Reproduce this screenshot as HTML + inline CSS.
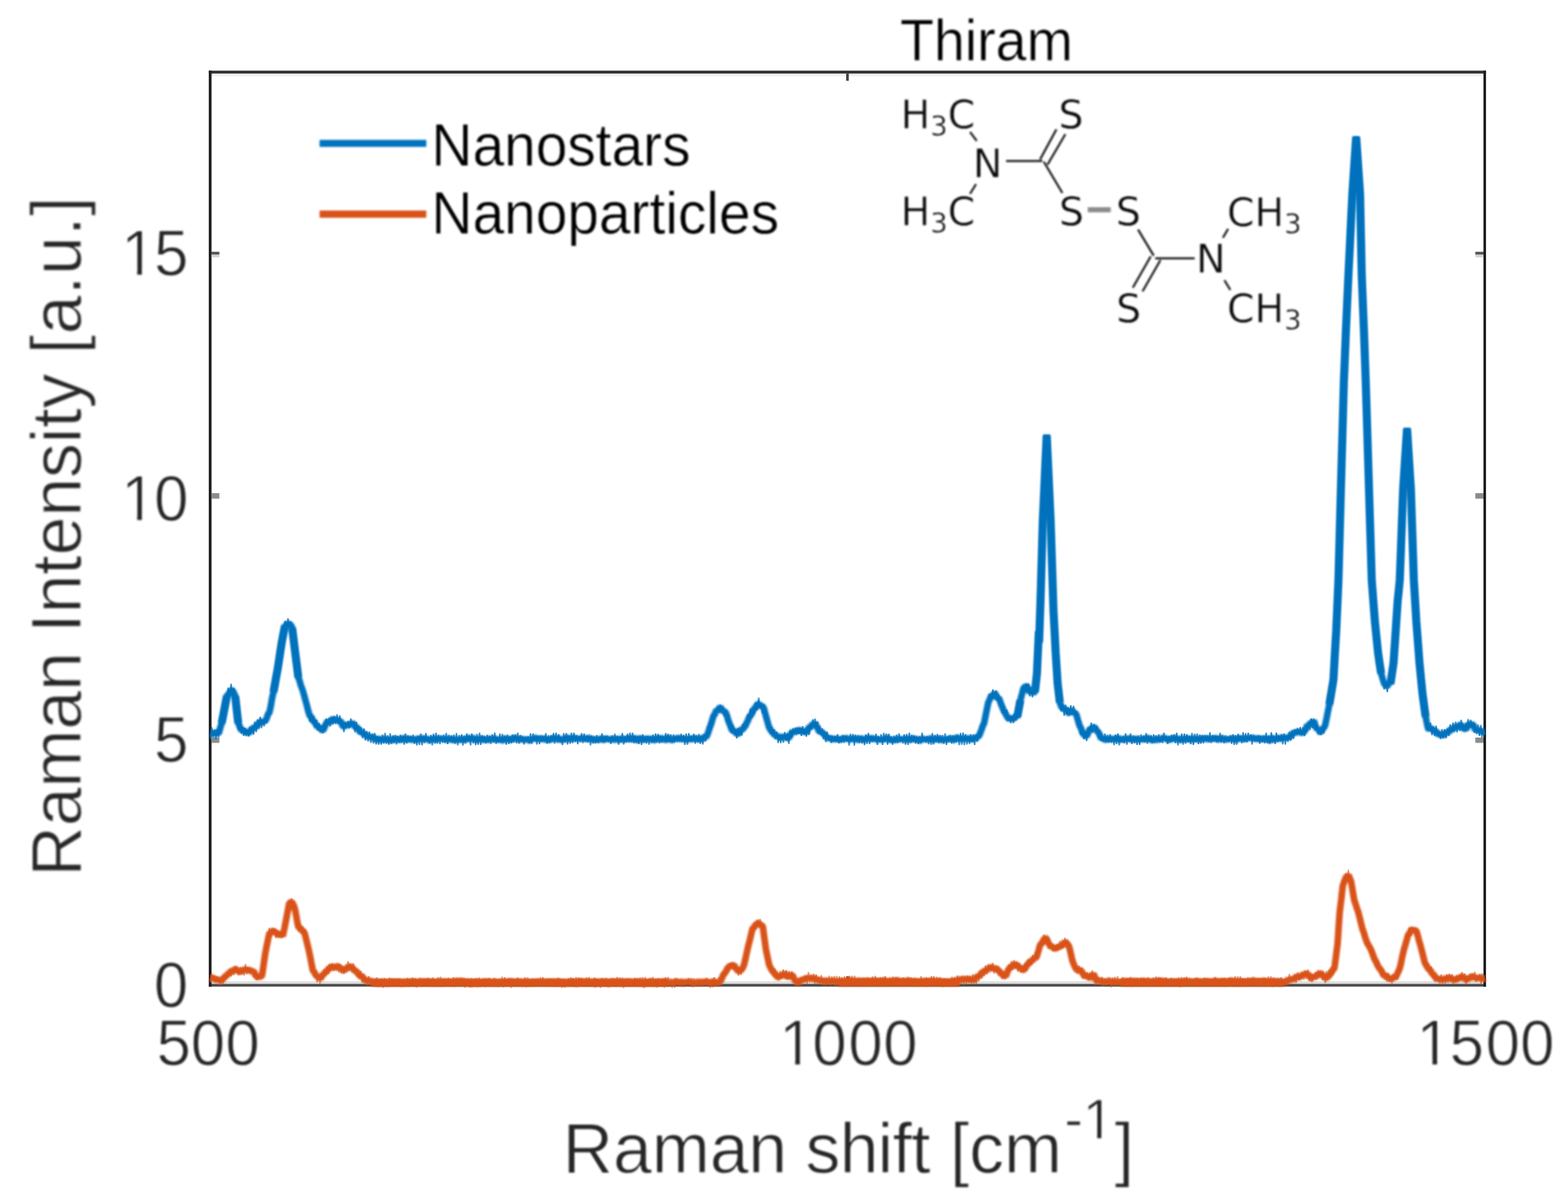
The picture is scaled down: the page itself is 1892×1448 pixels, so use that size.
<!DOCTYPE html>
<html lang="en">
<head>
<meta charset="utf-8">
<title>Thiram Raman spectra</title>
<style>
html,body{margin:0;padding:0;background:#fff;}
body{width:1892px;height:1448px;overflow:hidden;}
svg{display:block;}
#axes,#ticks{filter:blur(0.6px);}
#curves{filter:blur(0.7px);}
#legend,#ticklabels,#axlabels,#title{filter:blur(1.0px);}
#mol{filter:blur(0.8px);}
</style>
</head>
<body>
<svg width="1892" height="1448" viewBox="0 0 1892 1448">
<rect x="0" y="0" width="1892" height="1448" fill="#fff"/>
<g id="axes">
<rect x="255.2" y="88.6" width="1534.8" height="3.2" fill="#efefef"/>
<rect x="255.2" y="1184.2" width="1534.8" height="3.3" fill="#dcdcdc"/>
<rect x="251.9" y="1187.3" width="1541.2" height="3.2" fill="#474747"/>
<rect x="251.9" y="85.3" width="1541.2" height="3.4" fill="#2b2b2b"/>
<rect x="251.9" y="85.3" width="3.4" height="1105.2" fill="#202020"/>
<rect x="1790.0" y="85.3" width="3.1" height="1105.2" fill="#1e1e1e"/>
</g>
<g id="ticks" fill="#8a8a8a">
<rect x="255.1" y="303.8" width="9.6" height="3.6" fill="#555"/>
<rect x="1780.2" y="303.8" width="9.8" height="3.6" fill="#555"/>
<rect x="255.1" y="595.1" width="9.6" height="6.6" fill="#8c8c8c"/>
<rect x="1780.2" y="595.1" width="9.8" height="6.6" fill="#8c8c8c"/>
<rect x="255.1" y="890.0" width="9.6" height="6.4" fill="#8c8c8c"/>
<rect x="1780.2" y="890.0" width="9.8" height="6.4" fill="#8c8c8c"/>
<rect x="255.3" y="307.4" width="9.4" height="3.0" fill="#d0d0d0"/>
<rect x="1780.4" y="307.4" width="9.4" height="3.0" fill="#d0d0d0"/>
<rect x="1021" y="88.5" width="3.2" height="9" fill="#444"/>
<rect x="1021" y="1178.2" width="3.2" height="9" fill="#444"/>
</g>
<g id="curves" fill="none" stroke-linejoin="bevel" stroke-linecap="butt">
<path d="M254.0,1185.5 L255.5,1175.0 L257.0,1183.1 L258.5,1177.1 L260.0,1185.3 L261.5,1178.1 L263.0,1184.7 L264.5,1180.0 L266.0,1188.9 L267.5,1178.6 L269.2,1186.9 L270.8,1176.6 L272.5,1182.1 L274.2,1173.6 L275.8,1178.9 L277.5,1170.5 L279.0,1178.0 L280.5,1169.2 L282.0,1176.7 L283.5,1166.0 L285.0,1172.2 L286.7,1167.2 L288.3,1176.6 L290.0,1167.0 L291.6,1176.2 L293.1,1168.5 L294.7,1177.2 L296.2,1163.4 L297.7,1175.6 L299.2,1167.1 L300.6,1173.8 L302.1,1168.0 L303.5,1174.1 L305.0,1169.9 L306.6,1178.5 L308.1,1171.9 L309.7,1182.5 L311.2,1175.9 L312.9,1180.9 L314.6,1172.7 L316.2,1177.2 L318.1,1164.0 L320.0,1150.9 L321.7,1142.6 L323.3,1134.2 L325.0,1119.7 L326.7,1130.5 L328.3,1120.3 L330.0,1127.0 L331.6,1120.3 L333.1,1131.9 L334.7,1122.3 L336.2,1131.0 L337.9,1124.0 L339.6,1131.5 L341.2,1129.7 L343.1,1120.3 L345.0,1110.9 L346.9,1100.9 L348.8,1087.6 L350.4,1094.3 L352.0,1084.1 L353.4,1094.6 L354.8,1091.9 L356.2,1098.4 L358.1,1108.4 L360.0,1124.2 L361.5,1113.5 L363.0,1123.7 L364.5,1117.6 L366.0,1128.0 L367.5,1120.8 L369.2,1137.2 L370.8,1135.7 L372.5,1145.9 L374.2,1154.2 L375.8,1162.6 L377.5,1164.8 L379.2,1177.9 L380.8,1171.0 L382.5,1185.2 L384.4,1177.1 L386.2,1187.2 L387.9,1174.1 L389.6,1181.0 L391.2,1169.2 L392.8,1177.0 L394.4,1167.0 L395.9,1174.9 L397.5,1163.1 L399.2,1171.6 L400.8,1162.5 L402.5,1171.8 L404.2,1163.6 L405.8,1171.3 L407.5,1162.6 L409.0,1173.3 L410.5,1163.6 L412.0,1174.4 L413.5,1165.4 L415.0,1175.2 L416.7,1166.3 L418.3,1170.6 L420.0,1159.9 L421.6,1171.5 L423.1,1162.9 L424.7,1172.5 L426.2,1162.5 L427.8,1173.1 L429.4,1168.7 L430.9,1179.0 L432.5,1170.4 L434.0,1181.2 L435.5,1171.7 L437.0,1185.4 L438.5,1174.5 L440.0,1184.4 L441.7,1178.8 L443.3,1189.2 L445.0,1177.8 L446.7,1186.9 L448.3,1182.1 L450.0,1188.6 L451.5,1182.9 L453.1,1189.1 L454.6,1179.5 L456.2,1189.9 L457.7,1181.2 L459.3,1187.9 L460.8,1181.5 L462.3,1192.2 L463.9,1180.1 L465.4,1189.6 L467.0,1181.1 L468.5,1191.2 L470.1,1179.7 L471.6,1188.2 L473.1,1180.1 L474.7,1189.2 L476.2,1180.9 L477.8,1188.6 L479.3,1181.6 L480.8,1189.1 L482.4,1181.5 L483.9,1187.5 L485.5,1182.4 L487.0,1190.2 L488.6,1183.1 L490.1,1188.3 L491.6,1179.9 L493.2,1188.7 L494.7,1181.8 L496.3,1188.6 L497.8,1179.4 L499.4,1187.9 L500.9,1180.3 L502.4,1191.5 L504.0,1182.4 L505.5,1189.5 L507.1,1179.6 L508.6,1190.4 L510.2,1181.6 L511.7,1187.6 L513.2,1181.3 L514.8,1189.2 L516.3,1180.0 L517.9,1188.8 L519.4,1181.4 L521.0,1190.5 L522.5,1179.5 L524.0,1189.1 L525.6,1181.5 L527.1,1190.2 L528.7,1179.0 L530.2,1188.4 L531.7,1178.7 L533.3,1190.8 L534.8,1181.6 L536.4,1190.6 L537.9,1181.8 L539.5,1187.8 L541.0,1179.8 L542.5,1189.2 L544.1,1180.9 L545.6,1189.8 L547.2,1179.1 L548.7,1191.0 L550.3,1183.2 L551.8,1190.3 L553.3,1181.2 L554.9,1189.6 L556.4,1179.4 L558.0,1189.4 L559.5,1181.1 L561.1,1191.7 L562.6,1181.3 L564.1,1189.8 L565.7,1180.9 L567.2,1191.4 L568.8,1180.2 L570.3,1191.0 L571.9,1181.4 L573.4,1187.6 L574.9,1180.1 L576.5,1190.1 L578.0,1179.7 L579.6,1191.1 L581.1,1182.8 L582.6,1188.5 L584.2,1183.0 L585.7,1191.3 L587.3,1182.9 L588.8,1187.9 L590.4,1179.8 L591.9,1190.1 L593.4,1183.1 L595.0,1190.7 L596.5,1180.0 L598.1,1189.7 L599.6,1183.1 L601.2,1190.7 L602.7,1181.4 L604.2,1190.2 L605.8,1178.6 L607.3,1191.3 L608.9,1179.2 L610.4,1188.1 L612.0,1181.8 L613.5,1189.9 L615.0,1183.3 L616.6,1192.1 L618.1,1182.1 L619.7,1188.7 L621.2,1181.9 L622.8,1188.7 L624.3,1179.3 L625.8,1190.1 L627.4,1180.9 L628.9,1189.4 L630.5,1183.1 L632.0,1188.9 L633.5,1179.2 L635.1,1191.3 L636.6,1179.3 L638.2,1188.7 L639.7,1182.4 L641.3,1187.7 L642.8,1180.8 L644.3,1189.2 L645.9,1181.2 L647.4,1189.8 L649.0,1180.6 L650.5,1189.2 L652.1,1179.5 L653.6,1188.4 L655.1,1179.0 L656.7,1190.1 L658.2,1183.1 L659.8,1188.9 L661.3,1180.8 L662.9,1189.4 L664.4,1180.7 L665.9,1189.0 L667.5,1182.1 L669.0,1191.2 L670.6,1182.0 L672.1,1190.8 L673.7,1179.5 L675.2,1190.3 L676.7,1181.2 L678.3,1191.9 L679.8,1181.2 L681.4,1191.6 L682.9,1183.1 L684.5,1189.5 L686.0,1180.3 L687.5,1187.7 L689.1,1179.3 L690.6,1187.8 L692.2,1180.5 L693.7,1188.3 L695.2,1179.0 L696.8,1190.1 L698.3,1179.5 L699.9,1189.8 L701.4,1180.2 L703.0,1190.7 L704.5,1182.0 L706.0,1188.4 L707.6,1179.4 L709.1,1188.1 L710.7,1179.0 L712.2,1188.4 L713.8,1182.9 L715.3,1187.9 L716.8,1179.6 L718.4,1192.0 L719.9,1181.4 L721.5,1190.6 L723.0,1182.1 L724.6,1191.8 L726.1,1180.1 L727.6,1188.2 L729.2,1183.1 L730.7,1190.8 L732.3,1183.2 L733.8,1191.4 L735.4,1182.0 L736.9,1188.5 L738.4,1180.6 L740.0,1189.0 L741.5,1180.7 L743.1,1188.2 L744.6,1179.0 L746.1,1189.0 L747.7,1179.4 L749.2,1188.2 L750.8,1179.6 L752.3,1192.1 L753.9,1181.5 L755.4,1187.6 L756.9,1181.6 L758.5,1190.5 L760.0,1182.3 L761.6,1190.0 L763.1,1182.9 L764.7,1189.7 L766.2,1179.9 L767.7,1189.5 L769.3,1180.1 L770.8,1188.0 L772.4,1179.4 L773.9,1188.0 L775.5,1179.0 L777.0,1192.2 L778.5,1178.9 L780.1,1189.9 L781.6,1182.0 L783.2,1189.1 L784.7,1179.8 L786.3,1189.8 L787.8,1178.9 L789.3,1187.9 L790.9,1181.1 L792.4,1191.6 L794.0,1180.5 L795.5,1190.0 L797.0,1182.9 L798.6,1188.1 L800.1,1182.1 L801.7,1191.7 L803.2,1179.3 L804.8,1188.5 L806.3,1179.0 L807.8,1187.6 L809.4,1180.5 L810.9,1192.0 L812.5,1181.7 L814.0,1191.9 L815.6,1180.2 L817.1,1187.7 L818.6,1181.8 L820.2,1189.6 L821.7,1182.2 L823.3,1191.0 L824.8,1182.5 L826.4,1191.2 L827.9,1181.9 L829.4,1187.8 L831.0,1180.7 L832.5,1187.9 L834.1,1180.7 L835.6,1191.2 L837.2,1180.5 L838.7,1189.6 L840.2,1183.2 L841.8,1189.9 L843.3,1182.9 L844.9,1190.5 L846.4,1182.7 L847.9,1190.2 L849.5,1181.7 L851.0,1189.2 L852.6,1180.2 L854.1,1188.2 L855.7,1182.6 L857.2,1191.9 L858.7,1181.8 L860.3,1191.4 L861.8,1179.2 L863.4,1189.7 L864.9,1182.7 L866.5,1187.9 L868.0,1179.2 L869.7,1184.8 L871.3,1174.7 L873.0,1180.5 L874.7,1170.8 L876.3,1175.2 L878.0,1165.6 L879.4,1172.1 L880.8,1162.1 L882.1,1169.4 L883.5,1161.7 L885.0,1169.9 L886.5,1164.1 L888.0,1171.0 L889.5,1166.5 L891.0,1177.1 L892.5,1167.7 L893.9,1176.2 L895.2,1165.7 L896.6,1172.1 L898.0,1163.4 L899.7,1155.9 L901.3,1148.4 L903.0,1146.2 L904.7,1131.1 L906.3,1133.2 L908.0,1118.1 L909.7,1122.1 L911.3,1114.5 L913.0,1118.6 L914.2,1109.5 L915.5,1116.8 L917.2,1108.8 L918.8,1119.2 L920.5,1118.4 L922.4,1132.2 L924.2,1145.9 L926.1,1154.7 L928.0,1158.0 L929.7,1169.1 L931.3,1166.9 L933.0,1178.3 L934.7,1168.3 L936.3,1179.0 L938.0,1173.4 L939.7,1183.3 L941.3,1171.6 L943.0,1180.8 L944.9,1170.0 L946.8,1178.9 L948.6,1170.7 L950.5,1181.7 L952.2,1171.9 L953.8,1181.2 L955.5,1171.9 L957.4,1182.1 L959.2,1180.2 L961.1,1190.2 L963.0,1180.6 L964.7,1187.4 L966.3,1179.7 L968.0,1184.9 L969.5,1178.7 L971.0,1184.2 L972.5,1177.0 L974.0,1186.8 L975.5,1172.9 L977.1,1185.8 L978.6,1176.0 L980.2,1185.0 L981.8,1175.2 L983.3,1187.6 L984.9,1175.9 L986.4,1186.9 L988.0,1179.2 L989.6,1187.4 L991.1,1176.5 L992.7,1188.6 L994.2,1180.5 L995.8,1188.7 L997.4,1179.8 L998.9,1186.5 L1000.5,1177.3 L1002.0,1189.1 L1003.6,1178.3 L1005.1,1186.6 L1006.7,1177.9 L1008.2,1190.4 L1009.7,1177.6 L1011.3,1189.5 L1012.8,1178.0 L1014.4,1189.8 L1015.9,1179.1 L1017.5,1188.1 L1019.0,1178.0 L1020.5,1189.8 L1022.1,1177.8 L1023.6,1187.5 L1025.2,1177.4 L1026.7,1188.6 L1028.2,1177.5 L1029.8,1186.6 L1031.3,1177.4 L1032.9,1189.9 L1034.4,1180.8 L1035.9,1190.1 L1037.5,1180.9 L1039.0,1187.1 L1040.6,1179.9 L1042.1,1187.3 L1043.7,1179.7 L1045.2,1190.5 L1046.7,1178.8 L1048.3,1189.6 L1049.8,1180.2 L1051.4,1189.9 L1052.9,1178.3 L1054.4,1189.5 L1056.0,1177.7 L1057.5,1190.2 L1059.1,1180.2 L1060.6,1186.7 L1062.1,1179.1 L1063.7,1190.2 L1065.2,1180.6 L1066.8,1189.1 L1068.3,1178.2 L1069.9,1190.1 L1071.4,1182.2 L1072.9,1188.6 L1074.5,1182.2 L1076.0,1186.8 L1077.6,1178.4 L1079.1,1188.3 L1080.6,1179.4 L1082.2,1188.5 L1083.7,1180.7 L1085.3,1187.4 L1086.8,1180.6 L1088.4,1190.4 L1089.9,1179.4 L1091.4,1187.8 L1093.0,1181.9 L1094.5,1187.7 L1096.1,1179.0 L1097.6,1188.5 L1099.1,1179.2 L1100.7,1190.3 L1102.2,1181.8 L1103.8,1189.7 L1105.3,1182.2 L1106.8,1190.4 L1108.4,1181.5 L1109.9,1187.8 L1111.5,1177.9 L1113.0,1188.2 L1114.6,1181.4 L1116.1,1190.8 L1117.6,1179.5 L1119.2,1190.8 L1120.7,1180.6 L1122.3,1188.9 L1123.8,1177.9 L1125.3,1189.0 L1126.9,1177.8 L1128.4,1187.5 L1130.0,1178.6 L1131.5,1187.4 L1133.0,1180.0 L1134.6,1186.6 L1136.1,1181.7 L1137.7,1191.1 L1139.2,1180.4 L1140.8,1190.5 L1142.3,1181.4 L1143.8,1188.3 L1145.4,1182.1 L1146.9,1189.3 L1148.5,1178.5 L1150.0,1189.1 L1151.7,1180.4 L1153.3,1190.3 L1155.0,1177.1 L1156.7,1188.2 L1158.3,1180.2 L1160.0,1187.2 L1161.5,1178.0 L1163.0,1188.7 L1164.5,1178.4 L1166.0,1187.3 L1167.5,1177.1 L1169.0,1186.0 L1170.5,1177.6 L1172.0,1187.4 L1173.5,1175.8 L1175.0,1186.6 L1176.5,1177.4 L1178.0,1186.8 L1179.5,1176.8 L1181.0,1184.2 L1182.5,1171.9 L1184.2,1180.2 L1185.8,1169.6 L1187.5,1177.8 L1189.1,1164.9 L1190.6,1175.8 L1192.2,1163.7 L1193.8,1170.6 L1195.2,1164.8 L1196.7,1171.1 L1198.1,1161.8 L1199.6,1174.7 L1201.0,1165.7 L1202.5,1173.2 L1204.2,1165.7 L1205.8,1174.8 L1207.5,1170.7 L1209.1,1181.2 L1210.6,1171.4 L1212.2,1180.8 L1213.8,1172.7 L1215.6,1176.8 L1217.5,1163.8 L1219.0,1171.4 L1220.5,1159.7 L1222.0,1170.5 L1223.5,1158.5 L1225.0,1168.7 L1226.7,1160.8 L1228.3,1172.5 L1230.0,1161.7 L1231.7,1173.3 L1233.3,1165.5 L1235.0,1172.5 L1236.7,1162.8 L1238.3,1171.5 L1240.0,1157.6 L1241.6,1165.8 L1243.1,1158.2 L1244.7,1164.1 L1246.2,1152.2 L1247.9,1159.5 L1249.6,1149.5 L1251.2,1156.3 L1253.1,1143.6 L1255.0,1143.2 L1256.6,1135.3 L1258.1,1140.4 L1259.7,1127.7 L1261.2,1138.8 L1262.9,1131.7 L1264.6,1140.7 L1266.2,1133.1 L1267.8,1143.9 L1269.4,1138.6 L1270.9,1147.5 L1272.5,1142.1 L1274.1,1147.3 L1275.6,1139.5 L1277.2,1146.7 L1278.8,1135.5 L1280.3,1143.9 L1281.9,1136.0 L1283.4,1143.8 L1285.0,1131.7 L1286.7,1144.0 L1288.3,1135.0 L1290.0,1142.2 L1291.9,1150.3 L1293.8,1161.2 L1295.4,1156.5 L1297.1,1170.2 L1298.8,1165.0 L1300.3,1175.5 L1301.9,1165.3 L1303.4,1174.9 L1305.0,1168.4 L1306.9,1181.1 L1308.8,1172.6 L1310.3,1181.2 L1311.9,1173.4 L1313.4,1182.3 L1315.0,1173.9 L1316.5,1180.6 L1318.0,1171.2 L1319.5,1180.6 L1321.0,1175.3 L1322.5,1188.7 L1324.0,1179.3 L1325.5,1186.3 L1327.0,1181.3 L1328.5,1188.8 L1330.0,1179.0 L1331.5,1189.9 L1333.1,1180.6 L1334.6,1190.5 L1336.2,1182.1 L1337.7,1188.2 L1339.3,1179.5 L1340.8,1191.3 L1342.3,1179.6 L1343.9,1190.0 L1345.4,1178.9 L1347.0,1188.6 L1348.5,1178.1 L1350.0,1190.2 L1351.6,1181.0 L1353.1,1188.6 L1354.7,1178.8 L1356.2,1188.4 L1357.8,1181.7 L1359.3,1190.8 L1360.8,1180.1 L1362.4,1189.2 L1363.9,1179.4 L1365.5,1191.0 L1367.0,1182.0 L1368.6,1188.3 L1370.1,1182.3 L1371.6,1188.7 L1373.2,1180.2 L1374.7,1190.7 L1376.3,1179.4 L1377.8,1189.4 L1379.4,1180.7 L1380.9,1189.4 L1382.4,1181.3 L1384.0,1190.7 L1385.5,1178.9 L1387.1,1190.7 L1388.6,1181.9 L1390.1,1189.9 L1391.7,1179.0 L1393.2,1189.1 L1394.8,1178.3 L1396.3,1191.0 L1397.9,1179.1 L1399.4,1190.6 L1400.9,1179.5 L1402.5,1190.9 L1404.0,1182.0 L1405.6,1190.0 L1407.1,1179.3 L1408.7,1189.6 L1410.2,1181.3 L1411.7,1187.0 L1413.3,1179.7 L1414.8,1190.6 L1416.4,1181.3 L1417.9,1187.7 L1419.5,1181.5 L1421.0,1187.1 L1422.5,1179.4 L1424.1,1191.3 L1425.6,1178.8 L1427.2,1188.4 L1428.7,1179.3 L1430.2,1187.0 L1431.8,1178.6 L1433.3,1188.2 L1434.9,1182.6 L1436.4,1189.7 L1438.0,1181.9 L1439.5,1188.0 L1441.0,1182.3 L1442.6,1188.8 L1444.1,1180.0 L1445.7,1190.5 L1447.2,1182.4 L1448.8,1190.6 L1450.3,1182.1 L1451.8,1187.8 L1453.4,1179.6 L1454.9,1188.3 L1456.5,1181.0 L1458.0,1189.4 L1459.5,1181.6 L1461.1,1190.5 L1462.6,1181.6 L1464.2,1190.7 L1465.7,1178.8 L1467.3,1189.2 L1468.8,1182.5 L1470.3,1190.4 L1471.9,1182.5 L1473.4,1189.1 L1475.0,1180.6 L1476.5,1187.0 L1478.1,1179.6 L1479.6,1190.1 L1481.1,1179.8 L1482.7,1188.6 L1484.2,1180.2 L1485.8,1189.5 L1487.3,1181.5 L1488.9,1190.8 L1490.4,1177.9 L1491.9,1190.5 L1493.5,1178.0 L1495.0,1188.3 L1496.6,1177.9 L1498.1,1187.0 L1499.6,1180.3 L1501.2,1187.3 L1502.7,1180.4 L1504.3,1189.9 L1505.8,1179.2 L1507.4,1188.9 L1508.9,1181.0 L1510.4,1187.6 L1512.0,1180.7 L1513.5,1188.0 L1515.1,1181.7 L1516.6,1190.2 L1518.2,1180.2 L1519.7,1188.8 L1521.2,1181.7 L1522.8,1190.0 L1524.3,1181.7 L1525.9,1188.0 L1527.4,1179.9 L1529.0,1190.0 L1530.5,1178.0 L1532.0,1190.2 L1533.6,1178.1 L1535.1,1191.1 L1536.7,1179.2 L1538.2,1190.1 L1539.7,1182.3 L1541.3,1187.7 L1542.8,1182.5 L1544.4,1190.8 L1545.9,1179.2 L1547.5,1189.7 L1549.0,1181.4 L1550.7,1187.8 L1552.3,1180.6 L1554.0,1187.8 L1555.7,1175.4 L1557.3,1185.0 L1559.0,1178.6 L1560.7,1183.4 L1562.3,1176.3 L1564.0,1186.0 L1565.7,1173.4 L1567.3,1183.0 L1569.0,1175.9 L1570.5,1180.2 L1572.0,1174.1 L1573.5,1181.9 L1575.0,1171.1 L1576.5,1181.4 L1578.2,1169.9 L1579.8,1183.8 L1581.5,1175.3 L1583.0,1185.1 L1584.5,1176.0 L1586.0,1180.7 L1587.5,1172.9 L1589.0,1181.6 L1590.9,1172.2 L1592.8,1176.6 L1594.3,1172.8 L1595.9,1182.9 L1597.4,1172.7 L1599.0,1186.2 L1600.6,1171.7 L1602.1,1181.3 L1603.7,1170.4 L1605.2,1178.5 L1606.9,1166.7 L1608.6,1176.5 L1610.2,1168.4 L1612.1,1153.4 L1614.0,1138.4 L1615.2,1119.7 L1616.5,1100.9 L1618.4,1084.7 L1620.2,1062.4 L1622.1,1069.2 L1624.0,1054.2 L1625.5,1059.4 L1627.0,1049.6 L1628.6,1064.2 L1630.2,1063.4 L1632.1,1074.7 L1634.0,1080.9 L1635.7,1097.2 L1637.3,1091.6 L1639.0,1106.0 L1640.7,1104.5 L1642.3,1117.4 L1644.0,1114.5 L1645.7,1129.8 L1647.3,1128.4 L1649.0,1140.8 L1650.6,1136.4 L1652.1,1145.1 L1653.7,1141.1 L1655.2,1153.2 L1656.8,1147.1 L1658.4,1161.3 L1659.9,1155.5 L1661.5,1165.8 L1663.0,1160.4 L1664.5,1170.7 L1666.0,1166.6 L1667.5,1177.3 L1669.0,1170.7 L1670.5,1182.3 L1672.0,1174.7 L1673.5,1184.0 L1675.0,1174.6 L1676.5,1185.2 L1678.0,1177.9 L1679.5,1186.8 L1681.0,1175.3 L1682.5,1182.2 L1684.0,1176.5 L1685.7,1182.6 L1687.3,1169.0 L1689.0,1168.4 L1690.7,1160.9 L1692.3,1153.4 L1694.0,1140.8 L1695.7,1145.6 L1697.3,1132.0 L1699.0,1130.9 L1700.7,1119.2 L1702.3,1129.3 L1704.0,1118.7 L1705.7,1124.0 L1707.3,1119.4 L1709.0,1129.9 L1710.7,1126.1 L1712.3,1140.3 L1714.0,1134.4 L1715.7,1152.6 L1717.3,1147.8 L1719.0,1164.2 L1720.6,1160.6 L1722.1,1168.0 L1723.7,1162.8 L1725.2,1173.4 L1726.8,1166.1 L1728.4,1180.1 L1729.9,1173.6 L1731.5,1184.3 L1733.0,1176.3 L1734.5,1184.4 L1736.0,1178.1 L1737.5,1187.2 L1739.0,1175.9 L1740.7,1188.1 L1742.3,1179.3 L1744.0,1187.0 L1745.7,1175.8 L1747.3,1186.0 L1749.0,1175.2 L1750.5,1185.1 L1752.0,1175.8 L1753.5,1187.0 L1755.0,1179.2 L1756.5,1184.4 L1758.0,1176.8 L1759.5,1184.1 L1761.0,1176.0 L1762.5,1181.2 L1764.0,1172.8 L1765.7,1181.8 L1767.3,1174.9 L1769.0,1188.1 L1770.5,1177.2 L1772.0,1183.3 L1773.5,1174.8 L1775.0,1182.2 L1776.5,1174.3 L1778.0,1181.5 L1779.5,1172.7 L1781.0,1184.5 L1782.5,1176.7 L1784.0,1183.4 L1785.5,1175.3 L1787.0,1186.8 L1788.5,1174.5 L1790.0,1183.0 L1791.5,1176.6" stroke="#D95319" stroke-width="1.7" stroke-opacity="0.6"/>
<path d="M254.0,1179.7 L255.5,1180.4 L257.0,1179.5 L258.5,1181.0 L260.0,1182.2 L261.5,1181.8 L263.0,1182.2 L264.5,1182.7 L266.0,1182.8 L267.5,1182.4 L269.2,1181.2 L270.8,1179.0 L272.5,1177.8 L274.2,1176.1 L275.8,1174.6 L277.5,1173.3 L279.0,1171.3 L280.5,1171.6 L282.0,1171.1 L283.5,1169.6 L285.0,1169.6 L286.7,1171.3 L288.3,1172.0 L290.0,1174.1 L291.6,1170.4 L293.1,1171.4 L294.7,1169.1 L296.2,1170.0 L297.7,1172.2 L299.2,1168.5 L300.6,1171.0 L302.1,1171.7 L303.5,1171.5 L305.0,1172.3 L306.6,1172.2 L308.1,1176.6 L309.7,1178.1 L311.2,1179.7 L312.9,1178.3 L314.6,1178.5 L316.2,1177.1 L318.1,1164.1 L320.0,1150.9 L321.7,1142.0 L323.3,1134.2 L325.0,1126.0 L326.7,1125.7 L328.3,1123.5 L330.0,1123.4 L331.6,1124.8 L333.1,1125.4 L334.7,1127.2 L336.2,1127.8 L337.9,1127.3 L339.6,1127.3 L341.2,1129.7 L343.1,1120.6 L345.0,1111.0 L346.9,1101.1 L348.8,1090.7 L350.4,1088.8 L352.0,1088.2 L353.4,1090.7 L354.8,1093.4 L356.2,1098.3 L358.1,1109.0 L360.0,1119.0 L361.5,1119.4 L363.0,1120.8 L364.5,1123.1 L366.0,1123.8 L367.5,1126.0 L369.2,1132.5 L370.8,1139.0 L372.5,1146.0 L374.2,1154.1 L375.8,1162.6 L377.5,1170.9 L379.2,1173.1 L380.8,1176.2 L382.5,1178.2 L384.4,1178.8 L386.2,1181.4 L387.9,1178.6 L389.6,1176.5 L391.2,1174.6 L392.8,1173.1 L394.4,1172.0 L395.9,1170.1 L397.5,1168.1 L399.2,1167.4 L400.8,1165.9 L402.5,1167.0 L404.2,1167.1 L405.8,1166.7 L407.5,1165.9 L409.0,1166.8 L410.5,1168.6 L412.0,1168.9 L413.5,1170.5 L415.0,1171.1 L416.7,1169.6 L418.3,1168.9 L420.0,1166.2 L421.6,1166.6 L423.1,1166.8 L424.7,1167.3 L426.2,1168.9 L427.8,1171.4 L429.4,1171.5 L430.9,1173.5 L432.5,1175.0 L434.0,1176.8 L435.5,1178.6 L437.0,1178.1 L438.5,1180.1 L440.0,1182.3 L441.7,1183.8 L443.3,1183.3 L445.0,1183.1 L446.7,1184.0 L448.3,1184.3 L450.0,1185.1 L451.5,1186.6 L453.1,1184.9 L454.6,1185.4 L456.2,1187.1 L457.7,1186.3 L459.3,1185.7 L460.8,1184.9 L462.3,1185.7 L463.9,1186.7 L465.4,1185.9 L467.0,1186.4 L468.5,1185.5 L470.1,1185.8 L471.6,1185.2 L473.1,1185.7 L474.7,1186.4 L476.2,1184.3 L477.8,1185.3 L479.3,1185.6 L480.8,1184.9 L482.4,1185.2 L483.9,1186.0 L485.5,1187.0 L487.0,1185.9 L488.6,1185.7 L490.1,1184.2 L491.6,1186.9 L493.2,1185.5 L494.7,1185.4 L496.3,1184.5 L497.8,1185.4 L499.4,1184.5 L500.9,1185.5 L502.4,1185.8 L504.0,1185.4 L505.5,1185.6 L507.1,1184.7 L508.6,1186.5 L510.2,1184.9 L511.7,1183.9 L513.2,1185.2 L514.8,1184.8 L516.3,1184.6 L517.9,1185.1 L519.4,1185.6 L521.0,1184.5 L522.5,1185.3 L524.0,1186.5 L525.6,1185.9 L527.1,1185.3 L528.7,1185.5 L530.2,1185.3 L531.7,1185.4 L533.3,1186.0 L534.8,1185.3 L536.4,1183.5 L537.9,1185.4 L539.5,1184.7 L541.0,1185.9 L542.5,1184.9 L544.1,1185.5 L545.6,1187.1 L547.2,1184.6 L548.7,1184.5 L550.3,1184.3 L551.8,1183.5 L553.3,1183.9 L554.9,1185.7 L556.4,1184.9 L558.0,1183.9 L559.5,1184.2 L561.1,1185.9 L562.6,1184.8 L564.1,1185.1 L565.7,1185.7 L567.2,1186.5 L568.8,1187.0 L570.3,1186.2 L571.9,1185.5 L573.4,1185.5 L574.9,1186.8 L576.5,1186.5 L578.0,1185.2 L579.6,1185.8 L581.1,1185.6 L582.6,1185.4 L584.2,1185.0 L585.7,1184.3 L587.3,1185.0 L588.8,1184.2 L590.4,1186.4 L591.9,1185.8 L593.4,1184.4 L595.0,1186.5 L596.5,1186.1 L598.1,1183.9 L599.6,1186.9 L601.2,1186.0 L602.7,1187.1 L604.2,1184.4 L605.8,1185.8 L607.3,1185.7 L608.9,1185.6 L610.4,1185.5 L612.0,1186.2 L613.5,1184.2 L615.0,1184.4 L616.6,1184.3 L618.1,1185.0 L619.7,1184.9 L621.2,1185.7 L622.8,1185.6 L624.3,1185.4 L625.8,1184.9 L627.4,1185.0 L628.9,1186.2 L630.5,1186.0 L632.0,1185.5 L633.5,1185.1 L635.1,1186.6 L636.6,1184.9 L638.2,1185.9 L639.7,1186.3 L641.3,1185.2 L642.8,1186.1 L644.3,1184.5 L645.9,1186.2 L647.4,1185.6 L649.0,1184.1 L650.5,1185.9 L652.1,1184.7 L653.6,1186.4 L655.1,1184.9 L656.7,1185.3 L658.2,1185.6 L659.8,1185.1 L661.3,1185.6 L662.9,1185.0 L664.4,1185.9 L665.9,1185.4 L667.5,1185.6 L669.0,1183.2 L670.6,1186.3 L672.1,1185.4 L673.7,1184.0 L675.2,1185.5 L676.7,1185.8 L678.3,1186.3 L679.8,1184.5 L681.4,1186.6 L682.9,1185.3 L684.5,1187.3 L686.0,1185.3 L687.5,1185.9 L689.1,1185.1 L690.6,1184.5 L692.2,1186.3 L693.7,1186.1 L695.2,1186.6 L696.8,1186.1 L698.3,1184.9 L699.9,1184.1 L701.4,1184.9 L703.0,1184.9 L704.5,1184.7 L706.0,1185.9 L707.6,1185.7 L709.1,1185.2 L710.7,1185.5 L712.2,1185.3 L713.8,1185.6 L715.3,1186.0 L716.8,1186.2 L718.4,1184.9 L719.9,1184.2 L721.5,1186.5 L723.0,1185.5 L724.6,1186.3 L726.1,1184.1 L727.6,1185.1 L729.2,1185.4 L730.7,1184.2 L732.3,1185.0 L733.8,1186.0 L735.4,1186.3 L736.9,1186.7 L738.4,1184.7 L740.0,1184.3 L741.5,1185.8 L743.1,1186.2 L744.6,1185.6 L746.1,1184.4 L747.7,1186.0 L749.2,1186.0 L750.8,1185.8 L752.3,1185.0 L753.9,1185.6 L755.4,1186.0 L756.9,1185.0 L758.5,1183.9 L760.0,1185.7 L761.6,1185.8 L763.1,1185.4 L764.7,1186.1 L766.2,1184.9 L767.7,1185.3 L769.3,1185.2 L770.8,1185.9 L772.4,1186.7 L773.9,1185.2 L775.5,1187.0 L777.0,1186.6 L778.5,1186.0 L780.1,1185.9 L781.6,1186.8 L783.2,1185.3 L784.7,1185.3 L786.3,1184.5 L787.8,1185.8 L789.3,1186.5 L790.9,1185.8 L792.4,1185.7 L794.0,1185.2 L795.5,1185.5 L797.0,1184.3 L798.6,1186.2 L800.1,1185.1 L801.7,1184.5 L803.2,1184.8 L804.8,1184.7 L806.3,1186.1 L807.8,1186.2 L809.4,1184.3 L810.9,1186.1 L812.5,1186.1 L814.0,1184.9 L815.6,1184.2 L817.1,1184.8 L818.6,1184.9 L820.2,1185.7 L821.7,1185.1 L823.3,1183.8 L824.8,1185.6 L826.4,1184.2 L827.9,1186.1 L829.4,1184.4 L831.0,1184.8 L832.5,1184.7 L834.1,1185.0 L835.6,1186.4 L837.2,1186.1 L838.7,1185.9 L840.2,1185.7 L841.8,1184.2 L843.3,1185.0 L844.9,1185.0 L846.4,1184.6 L847.9,1185.8 L849.5,1184.8 L851.0,1184.8 L852.6,1184.6 L854.1,1183.8 L855.7,1185.9 L857.2,1186.5 L858.7,1185.5 L860.3,1184.6 L861.8,1183.2 L863.4,1185.5 L864.9,1186.4 L866.5,1185.6 L868.0,1185.7 L869.7,1183.4 L871.3,1180.0 L873.0,1175.8 L874.7,1174.2 L876.3,1171.5 L878.0,1167.9 L879.4,1167.1 L880.8,1165.4 L882.1,1165.5 L883.5,1164.8 L885.0,1165.0 L886.5,1165.5 L888.0,1168.8 L889.5,1170.0 L891.0,1172.1 L892.5,1171.7 L893.9,1170.8 L895.2,1169.4 L896.6,1167.2 L898.0,1163.4 L899.7,1156.0 L901.3,1148.4 L903.0,1141.0 L904.7,1134.5 L906.3,1127.6 L908.0,1120.5 L909.7,1119.4 L911.3,1116.4 L913.0,1114.9 L914.2,1114.2 L915.5,1113.9 L917.2,1116.0 L918.8,1116.4 L920.5,1118.4 L922.4,1132.6 L924.2,1145.8 L926.1,1154.8 L928.0,1163.8 L929.7,1167.7 L931.3,1170.5 L933.0,1173.0 L934.7,1174.1 L936.3,1176.9 L938.0,1178.5 L939.7,1180.0 L941.3,1176.9 L943.0,1177.5 L944.9,1176.5 L946.8,1174.1 L948.6,1176.5 L950.5,1179.7 L952.2,1178.0 L953.8,1177.0 L955.5,1176.1 L957.4,1179.0 L959.2,1183.5 L961.1,1184.1 L963.0,1185.7 L964.7,1185.1 L966.3,1182.9 L968.0,1182.2 L969.5,1182.9 L971.0,1181.2 L972.5,1180.5 L974.0,1180.7 L975.5,1179.5 L977.1,1180.8 L978.6,1179.2 L980.2,1181.1 L981.8,1180.5 L983.3,1180.6 L984.9,1182.9 L986.4,1181.2 L988.0,1182.7 L989.6,1182.9 L991.1,1183.7 L992.7,1182.0 L994.2,1184.0 L995.8,1184.4 L997.4,1183.4 L998.9,1183.6 L1000.5,1184.7 L1002.0,1184.0 L1003.6,1183.6 L1005.1,1183.4 L1006.7,1184.3 L1008.2,1184.2 L1009.7,1184.1 L1011.3,1185.3 L1012.8,1183.7 L1014.4,1184.3 L1015.9,1185.1 L1017.5,1183.2 L1019.0,1184.8 L1020.5,1185.5 L1022.1,1182.9 L1023.6,1183.1 L1025.2,1183.2 L1026.7,1182.6 L1028.2,1184.4 L1029.8,1182.6 L1031.3,1184.5 L1032.9,1185.2 L1034.4,1182.8 L1035.9,1183.8 L1037.5,1182.6 L1039.0,1184.7 L1040.6,1183.5 L1042.1,1183.9 L1043.7,1184.2 L1045.2,1184.6 L1046.7,1183.9 L1048.3,1184.2 L1049.8,1183.7 L1051.4,1184.2 L1052.9,1183.2 L1054.4,1184.2 L1056.0,1182.6 L1057.5,1183.8 L1059.1,1185.7 L1060.6,1184.3 L1062.1,1183.2 L1063.7,1184.4 L1065.2,1183.4 L1066.8,1182.9 L1068.3,1183.7 L1069.9,1184.8 L1071.4,1184.6 L1072.9,1184.2 L1074.5,1183.5 L1076.0,1183.4 L1077.6,1185.4 L1079.1,1184.5 L1080.6,1183.5 L1082.2,1182.6 L1083.7,1183.2 L1085.3,1186.3 L1086.8,1183.4 L1088.4,1184.3 L1089.9,1184.5 L1091.4,1184.2 L1093.0,1184.1 L1094.5,1183.3 L1096.1,1183.5 L1097.6,1185.7 L1099.1,1183.8 L1100.7,1185.1 L1102.2,1183.1 L1103.8,1184.2 L1105.3,1184.6 L1106.8,1185.3 L1108.4,1183.5 L1109.9,1184.9 L1111.5,1184.8 L1113.0,1183.9 L1114.6,1184.9 L1116.1,1183.8 L1117.6,1183.9 L1119.2,1184.5 L1120.7,1182.3 L1122.3,1184.4 L1123.8,1183.7 L1125.3,1183.4 L1126.9,1184.2 L1128.4,1185.2 L1130.0,1184.2 L1131.5,1185.6 L1133.0,1183.6 L1134.6,1183.5 L1136.1,1185.8 L1137.7,1184.9 L1139.2,1185.4 L1140.8,1183.9 L1142.3,1185.3 L1143.8,1184.8 L1145.4,1185.1 L1146.9,1184.7 L1148.5,1185.6 L1150.0,1184.4 L1151.7,1183.5 L1153.3,1182.6 L1155.0,1184.3 L1156.7,1182.4 L1158.3,1181.7 L1160.0,1181.8 L1161.5,1181.8 L1163.0,1181.1 L1164.5,1181.9 L1166.0,1181.6 L1167.5,1181.7 L1169.0,1181.4 L1170.5,1182.2 L1172.0,1181.8 L1173.5,1182.2 L1175.0,1182.2 L1176.5,1181.4 L1178.0,1178.4 L1179.5,1178.7 L1181.0,1177.5 L1182.5,1177.4 L1184.2,1174.2 L1185.8,1173.2 L1187.5,1172.1 L1189.1,1170.9 L1190.6,1171.1 L1192.2,1169.0 L1193.8,1168.7 L1195.2,1167.2 L1196.7,1167.0 L1198.1,1169.4 L1199.6,1168.7 L1201.0,1168.8 L1202.5,1168.4 L1204.2,1170.9 L1205.8,1171.6 L1207.5,1175.0 L1209.1,1175.2 L1210.6,1177.3 L1212.2,1177.5 L1213.8,1177.8 L1215.6,1172.4 L1217.5,1168.8 L1219.0,1167.3 L1220.5,1166.1 L1222.0,1165.6 L1223.5,1164.1 L1225.0,1163.2 L1226.7,1164.7 L1228.3,1166.0 L1230.0,1167.6 L1231.7,1168.0 L1233.3,1170.3 L1235.0,1170.2 L1236.7,1168.9 L1238.3,1166.3 L1240.0,1163.4 L1241.6,1162.3 L1243.1,1160.8 L1244.7,1159.1 L1246.2,1158.4 L1247.9,1156.2 L1249.6,1156.4 L1251.2,1153.5 L1253.1,1147.0 L1255.0,1140.3 L1256.6,1138.7 L1258.1,1136.2 L1259.7,1133.5 L1261.2,1131.8 L1262.9,1132.8 L1264.6,1137.6 L1266.2,1139.6 L1267.8,1143.0 L1269.4,1142.1 L1270.9,1143.3 L1272.5,1145.1 L1274.1,1144.1 L1275.6,1143.5 L1277.2,1142.5 L1278.8,1142.0 L1280.3,1141.8 L1281.9,1139.8 L1283.4,1138.8 L1285.0,1135.8 L1286.7,1138.0 L1288.3,1139.4 L1290.0,1142.2 L1291.9,1149.9 L1293.8,1158.6 L1295.4,1163.0 L1297.1,1167.0 L1298.8,1169.3 L1300.3,1171.1 L1301.9,1170.3 L1303.4,1170.9 L1305.0,1171.7 L1306.9,1175.6 L1308.8,1177.7 L1310.3,1177.3 L1311.9,1177.8 L1313.4,1178.8 L1315.0,1180.5 L1316.5,1179.2 L1318.0,1176.7 L1319.5,1175.3 L1321.0,1178.5 L1322.5,1182.5 L1324.0,1184.1 L1325.5,1182.9 L1327.0,1183.1 L1328.5,1183.7 L1330.0,1184.0 L1331.5,1185.4 L1333.1,1183.8 L1334.6,1185.5 L1336.2,1183.3 L1337.7,1183.6 L1339.3,1184.9 L1340.8,1184.0 L1342.3,1185.3 L1343.9,1184.7 L1345.4,1183.7 L1347.0,1185.1 L1348.5,1185.3 L1350.0,1183.1 L1351.6,1186.1 L1353.1,1185.0 L1354.7,1185.3 L1356.2,1183.2 L1357.8,1184.1 L1359.3,1184.4 L1360.8,1185.5 L1362.4,1183.5 L1363.9,1183.9 L1365.5,1183.0 L1367.0,1184.5 L1368.6,1184.9 L1370.1,1183.3 L1371.6,1184.2 L1373.2,1185.1 L1374.7,1185.9 L1376.3,1185.2 L1377.8,1184.4 L1379.4,1183.7 L1380.9,1183.9 L1382.4,1184.1 L1384.0,1184.8 L1385.5,1184.6 L1387.1,1186.0 L1388.6,1184.9 L1390.1,1183.8 L1391.7,1185.9 L1393.2,1185.4 L1394.8,1184.7 L1396.3,1184.1 L1397.9,1183.2 L1399.4,1183.8 L1400.9,1185.4 L1402.5,1184.0 L1404.0,1183.6 L1405.6,1184.8 L1407.1,1184.8 L1408.7,1185.1 L1410.2,1185.2 L1411.7,1185.8 L1413.3,1184.0 L1414.8,1185.4 L1416.4,1183.9 L1417.9,1185.2 L1419.5,1184.8 L1421.0,1184.8 L1422.5,1185.4 L1424.1,1184.6 L1425.6,1185.5 L1427.2,1185.4 L1428.7,1184.8 L1430.2,1184.2 L1431.8,1184.0 L1433.3,1184.2 L1434.9,1184.5 L1436.4,1184.6 L1438.0,1187.0 L1439.5,1185.2 L1441.0,1185.3 L1442.6,1184.0 L1444.1,1184.1 L1445.7,1184.4 L1447.2,1184.8 L1448.8,1183.8 L1450.3,1185.9 L1451.8,1184.2 L1453.4,1185.5 L1454.9,1182.8 L1456.5,1184.6 L1458.0,1184.9 L1459.5,1184.8 L1461.1,1185.1 L1462.6,1184.9 L1464.2,1184.8 L1465.7,1183.1 L1467.3,1184.1 L1468.8,1182.8 L1470.3,1185.2 L1471.9,1184.9 L1473.4,1184.5 L1475.0,1184.0 L1476.5,1184.2 L1478.1,1186.1 L1479.6,1186.0 L1481.1,1184.6 L1482.7,1185.7 L1484.2,1183.4 L1485.8,1183.1 L1487.3,1184.3 L1488.9,1184.0 L1490.4,1184.2 L1491.9,1184.8 L1493.5,1187.1 L1495.0,1184.1 L1496.6,1184.7 L1498.1,1184.9 L1499.6,1184.6 L1501.2,1185.4 L1502.7,1186.1 L1504.3,1183.7 L1505.8,1184.8 L1507.4,1184.4 L1508.9,1184.9 L1510.4,1183.4 L1512.0,1183.2 L1513.5,1182.8 L1515.1,1185.1 L1516.6,1184.8 L1518.2,1184.7 L1519.7,1182.8 L1521.2,1184.4 L1522.8,1184.0 L1524.3,1183.5 L1525.9,1183.9 L1527.4,1185.2 L1529.0,1185.1 L1530.5,1184.6 L1532.0,1185.1 L1533.6,1184.2 L1535.1,1184.7 L1536.7,1184.7 L1538.2,1185.1 L1539.7,1184.6 L1541.3,1184.5 L1542.8,1184.5 L1544.4,1184.1 L1545.9,1186.4 L1547.5,1185.1 L1549.0,1184.8 L1550.7,1185.9 L1552.3,1184.5 L1554.0,1181.5 L1555.7,1182.7 L1557.3,1182.2 L1559.0,1181.5 L1560.7,1181.5 L1562.3,1180.7 L1564.0,1178.7 L1565.7,1178.5 L1567.3,1179.0 L1569.0,1178.6 L1570.5,1176.8 L1572.0,1176.6 L1573.5,1175.8 L1575.0,1175.4 L1576.5,1174.8 L1578.2,1176.1 L1579.8,1177.0 L1581.5,1180.0 L1583.0,1180.4 L1584.5,1178.6 L1586.0,1179.0 L1587.5,1178.0 L1589.0,1177.4 L1590.9,1175.7 L1592.8,1173.2 L1594.3,1175.4 L1595.9,1177.3 L1597.4,1177.4 L1599.0,1180.3 L1600.6,1180.1 L1602.1,1178.6 L1603.7,1177.5 L1605.2,1174.9 L1606.9,1172.3 L1608.6,1170.0 L1610.2,1168.3 L1612.1,1153.4 L1614.0,1138.4 L1615.2,1119.8 L1616.5,1100.7 L1618.4,1085.2 L1620.2,1069.1 L1622.1,1063.4 L1624.0,1058.6 L1625.5,1057.5 L1627.0,1056.0 L1628.6,1059.5 L1630.2,1063.4 L1632.1,1074.5 L1634.0,1085.9 L1635.7,1090.9 L1637.3,1096.0 L1639.0,1100.8 L1640.7,1107.6 L1642.3,1114.2 L1644.0,1121.0 L1645.7,1125.6 L1647.3,1131.0 L1649.0,1136.2 L1650.6,1139.5 L1652.1,1141.9 L1653.7,1144.9 L1655.2,1148.3 L1656.8,1152.7 L1658.4,1157.1 L1659.9,1159.5 L1661.5,1163.2 L1663.0,1166.2 L1664.5,1168.6 L1666.0,1170.2 L1667.5,1172.8 L1669.0,1175.9 L1670.5,1177.4 L1672.0,1176.9 L1673.5,1178.1 L1675.0,1180.3 L1676.5,1180.5 L1678.0,1180.7 L1679.5,1180.7 L1681.0,1180.1 L1682.5,1179.1 L1684.0,1179.6 L1685.7,1175.6 L1687.3,1172.4 L1689.0,1168.3 L1690.7,1161.2 L1692.3,1153.0 L1694.0,1145.9 L1695.7,1140.1 L1697.3,1134.5 L1699.0,1128.2 L1700.7,1126.3 L1702.3,1122.9 L1704.0,1121.1 L1705.7,1123.1 L1707.3,1122.2 L1709.0,1123.4 L1710.7,1129.0 L1712.3,1135.3 L1714.0,1141.0 L1715.7,1147.6 L1717.3,1154.0 L1719.0,1161.0 L1720.6,1164.3 L1722.1,1166.8 L1723.7,1169.1 L1725.2,1170.3 L1726.8,1172.2 L1728.4,1175.8 L1729.9,1175.5 L1731.5,1178.8 L1733.0,1180.7 L1734.5,1180.5 L1736.0,1181.5 L1737.5,1181.1 L1739.0,1181.8 L1740.7,1181.7 L1742.3,1181.2 L1744.0,1180.9 L1745.7,1181.0 L1747.3,1180.0 L1749.0,1179.7 L1750.5,1180.5 L1752.0,1180.6 L1753.5,1182.6 L1755.0,1182.0 L1756.5,1182.2 L1758.0,1181.2 L1759.5,1180.1 L1761.0,1181.0 L1762.5,1179.3 L1764.0,1178.1 L1765.7,1179.2 L1767.3,1180.8 L1769.0,1182.0 L1770.5,1182.3 L1772.0,1179.7 L1773.5,1180.3 L1775.0,1179.3 L1776.5,1178.0 L1778.0,1178.9 L1779.5,1179.3 L1781.0,1180.3 L1782.5,1180.0 L1784.0,1181.0 L1785.5,1179.5 L1787.0,1179.8 L1788.5,1181.2 L1790.0,1181.3 L1791.5,1180.4" stroke="#D95319" stroke-width="8" style="filter:blur(1px)"/>
<path d="M448,1185.7 L806,1185.7 M1012,1185.7 L1158,1185.7 M1352,1185.7 L1548,1185.7" stroke="#D95319" stroke-width="9.2" style="filter:blur(0.8px)"/>
<path d="M254.0,891.9 L255.6,877.5 L257.2,889.5 L258.9,880.4 L260.5,891.9 L262.1,879.8 L263.8,889.5 L265.6,871.3 L267.5,872.5 L269.1,864.4 L270.6,856.2 L272.2,848.1 L273.8,844.7 L275.4,829.8 L277.1,841.7 L278.8,825.2 L280.4,841.8 L282.1,830.5 L283.8,840.0 L285.6,856.2 L287.5,880.1 L289.4,869.4 L291.2,885.0 L292.7,877.0 L294.2,887.9 L295.6,878.2 L297.1,888.2 L298.5,880.6 L300.0,888.5 L301.5,877.4 L303.0,883.7 L304.5,876.9 L306.0,886.4 L307.5,870.9 L309.2,883.3 L310.8,868.4 L312.5,879.3 L314.0,864.8 L315.5,878.7 L317.0,868.5 L318.5,876.3 L320.0,866.2 L321.7,872.7 L323.3,859.5 L325.0,860.0 L326.7,851.7 L328.3,843.3 L330.0,835.0 L331.7,825.8 L333.3,816.7 L335.0,807.5 L336.7,796.7 L338.3,785.8 L340.0,775.0 L341.9,765.0 L343.8,749.4 L345.6,760.7 L347.5,746.1 L349.2,757.1 L350.8,750.5 L352.5,757.5 L354.4,772.5 L356.2,787.5 L358.1,802.5 L360.0,821.4 L361.7,817.9 L363.3,831.4 L365.0,828.8 L366.7,841.2 L368.3,838.8 L370.0,856.9 L371.9,851.8 L373.8,870.5 L375.3,861.0 L376.9,872.2 L378.4,864.4 L380.0,877.4 L381.7,868.8 L383.3,881.5 L385.0,872.6 L386.5,882.8 L388.0,876.3 L389.5,884.8 L390.9,873.2 L392.3,879.8 L393.8,867.0 L395.3,874.0 L396.9,866.4 L398.4,876.7 L400.0,865.1 L401.7,874.3 L403.3,864.1 L405.0,873.3 L406.7,861.9 L408.3,873.7 L410.0,863.4 L411.7,875.3 L413.3,871.5 L415.0,883.3 L416.7,870.9 L418.3,877.7 L420.0,869.9 L421.7,878.5 L423.3,866.8 L425.0,875.4 L426.7,870.6 L428.3,883.4 L430.0,871.1 L431.5,882.2 L433.0,876.3 L434.5,886.3 L436.0,877.5 L437.5,890.7 L439.2,878.9 L440.8,893.5 L442.5,882.3 L444.2,894.7 L445.8,882.8 L447.5,896.5 L449.1,885.3 L450.6,897.1 L452.2,884.5 L453.8,898.3 L455.3,888.2 L456.9,898.6 L458.4,889.4 L460.0,898.5 L461.5,886.5 L463.1,897.1 L464.6,884.4 L466.2,897.5 L467.7,887.4 L469.2,898.6 L470.8,884.9 L472.3,897.6 L473.9,887.6 L475.4,896.8 L476.9,887.1 L478.5,898.3 L480.0,888.0 L481.6,896.4 L483.1,886.6 L484.6,896.4 L486.2,887.9 L487.7,898.6 L489.3,885.0 L490.8,897.0 L492.3,887.2 L493.9,895.3 L495.4,888.0 L497.0,895.1 L498.5,886.5 L500.0,897.5 L501.6,889.1 L503.1,899.3 L504.7,887.8 L506.2,898.9 L507.7,885.0 L509.3,899.5 L510.8,888.5 L512.3,896.6 L513.9,884.6 L515.4,894.3 L517.0,889.3 L518.5,897.3 L520.0,886.9 L521.6,899.3 L523.1,885.4 L524.7,897.2 L526.2,884.1 L527.7,897.1 L529.3,886.7 L530.8,898.0 L532.4,887.4 L533.9,896.2 L535.4,886.3 L537.0,896.2 L538.5,884.4 L540.1,897.9 L541.6,886.7 L543.1,894.8 L544.7,887.5 L546.2,896.4 L547.8,886.5 L549.3,897.4 L550.8,884.7 L552.4,899.5 L553.9,886.9 L555.5,896.6 L557.0,886.1 L558.5,899.7 L560.1,887.7 L561.6,897.1 L563.2,885.1 L564.7,895.1 L566.2,887.8 L567.8,899.5 L569.3,885.0 L570.9,897.0 L572.4,888.9 L573.9,899.1 L575.5,885.7 L577.0,898.7 L578.6,884.1 L580.1,899.0 L581.6,887.2 L583.2,895.0 L584.7,887.9 L586.3,897.0 L587.8,886.7 L589.3,895.2 L590.9,888.5 L592.4,897.6 L594.0,886.2 L595.5,896.1 L597.0,884.1 L598.6,897.6 L600.1,889.2 L601.7,896.4 L603.2,885.2 L604.7,895.8 L606.3,885.7 L607.8,894.2 L609.3,887.8 L610.9,898.7 L612.4,886.3 L614.0,897.8 L615.5,888.4 L617.0,896.9 L618.6,886.4 L620.1,895.6 L621.7,885.9 L623.2,897.0 L624.7,884.0 L626.3,897.3 L627.8,887.2 L629.4,894.8 L630.9,888.6 L632.4,898.3 L634.0,888.9 L635.5,894.7 L637.1,888.5 L638.6,897.0 L640.1,884.9 L641.7,897.5 L643.2,885.0 L644.8,894.4 L646.3,889.4 L647.8,898.3 L649.4,887.7 L650.9,898.0 L652.5,887.5 L654.0,895.0 L655.5,888.0 L657.1,894.6 L658.6,884.5 L660.2,897.3 L661.7,887.5 L663.2,896.5 L664.8,887.3 L666.3,894.4 L667.9,884.5 L669.4,897.3 L670.9,884.1 L672.5,896.5 L674.0,886.0 L675.6,895.4 L677.1,889.1 L678.6,899.1 L680.2,884.7 L681.7,895.8 L683.3,884.5 L684.8,898.5 L686.3,887.7 L687.9,897.3 L689.4,884.1 L691.0,896.7 L692.5,884.2 L694.0,895.4 L695.6,887.2 L697.1,898.0 L698.7,888.1 L700.2,895.7 L701.7,884.6 L703.3,896.7 L704.8,885.0 L706.3,895.4 L707.9,888.4 L709.4,896.0 L711.0,888.3 L712.5,899.3 L714.0,887.7 L715.6,897.1 L717.1,888.7 L718.7,896.9 L720.2,887.2 L721.7,896.2 L723.3,889.0 L724.8,894.7 L726.4,884.8 L727.9,895.9 L729.4,888.0 L731.0,895.0 L732.5,887.8 L734.1,895.3 L735.6,889.1 L737.1,897.6 L738.7,887.4 L740.2,894.8 L741.8,885.4 L743.3,894.5 L744.8,887.8 L746.4,898.5 L747.9,888.6 L749.5,896.4 L751.0,884.7 L752.5,898.4 L754.1,888.4 L755.6,895.9 L757.2,885.3 L758.7,896.0 L760.2,884.0 L761.8,895.1 L763.3,884.1 L764.9,896.7 L766.4,888.0 L767.9,896.4 L769.5,888.5 L771.0,897.8 L772.6,887.8 L774.1,898.8 L775.6,886.0 L777.2,895.9 L778.7,887.9 L780.3,897.2 L781.8,888.1 L783.3,898.7 L784.9,888.6 L786.4,896.7 L788.0,886.3 L789.5,895.4 L791.0,885.0 L792.6,896.0 L794.1,885.6 L795.7,897.0 L797.2,887.5 L798.7,896.0 L800.3,888.8 L801.8,894.9 L803.3,884.6 L804.9,895.6 L806.4,885.6 L808.0,894.5 L809.5,886.1 L811.0,895.9 L812.6,886.5 L814.1,895.5 L815.7,888.8 L817.2,895.6 L818.7,888.0 L820.3,894.6 L821.8,885.3 L823.4,895.4 L824.9,887.0 L826.4,898.8 L828.0,885.0 L829.5,898.7 L831.1,884.5 L832.6,894.6 L834.1,887.7 L835.7,894.0 L837.2,885.5 L838.8,897.5 L840.3,887.3 L841.8,896.1 L843.4,885.6 L844.9,897.7 L846.5,887.8 L848.0,898.5 L849.7,885.9 L851.3,894.6 L853.0,884.2 L854.6,886.1 L856.1,871.4 L857.7,880.7 L859.2,863.8 L860.9,868.4 L862.6,859.1 L864.2,860.7 L865.9,853.2 L867.6,859.8 L869.2,850.6 L870.8,858.8 L872.4,853.5 L873.9,864.6 L875.5,856.7 L877.0,870.9 L878.5,862.5 L880.0,878.3 L881.5,872.3 L883.0,884.7 L884.5,874.9 L886.0,886.2 L887.5,880.7 L889.0,890.9 L890.5,878.4 L892.0,887.4 L893.5,879.4 L895.0,887.5 L896.5,873.3 L898.0,880.1 L899.5,870.8 L901.0,874.4 L902.5,861.8 L904.0,869.0 L905.5,855.2 L907.1,866.4 L908.6,854.7 L910.2,861.1 L911.8,848.0 L913.6,857.0 L915.5,841.9 L917.1,854.2 L918.6,849.0 L920.2,860.9 L921.8,850.3 L923.3,868.0 L924.9,860.1 L926.4,878.2 L928.0,870.6 L929.6,885.5 L931.1,877.1 L932.7,886.7 L934.2,880.1 L935.8,891.9 L937.4,883.0 L938.9,896.5 L940.5,887.0 L942.1,896.5 L943.7,887.4 L945.3,896.2 L946.9,883.3 L948.5,893.8 L950.1,884.7 L951.8,897.6 L953.4,881.7 L955.1,890.3 L956.8,878.8 L958.2,885.0 L959.7,877.8 L961.1,886.5 L962.6,878.2 L964.0,885.5 L965.5,878.2 L967.0,888.0 L968.5,876.2 L970.0,886.4 L971.5,879.6 L973.0,888.9 L974.7,876.9 L976.3,887.0 L978.0,873.2 L979.4,880.2 L980.8,867.8 L982.1,876.9 L983.5,867.1 L984.9,879.2 L986.4,870.7 L987.8,885.3 L989.2,876.0 L990.7,887.0 L992.2,879.0 L993.6,891.9 L995.1,882.6 L996.5,895.3 L998.0,883.1 L999.7,893.6 L1001.3,887.4 L1003.0,896.3 L1004.5,888.5 L1006.1,894.7 L1007.6,888.1 L1009.2,895.4 L1010.7,885.8 L1012.3,896.8 L1013.8,889.0 L1015.4,896.1 L1016.9,887.1 L1018.4,896.3 L1020.0,888.7 L1021.5,894.7 L1023.1,889.5 L1024.6,899.7 L1026.2,885.5 L1027.7,894.7 L1029.3,885.7 L1030.8,899.6 L1032.3,886.5 L1033.9,894.8 L1035.4,886.9 L1037.0,896.6 L1038.5,888.5 L1040.1,897.2 L1041.6,889.5 L1043.2,899.2 L1044.7,886.0 L1046.2,897.6 L1047.8,884.4 L1049.3,897.8 L1050.9,888.2 L1052.4,895.5 L1054.0,888.8 L1055.5,894.3 L1057.0,885.3 L1058.6,898.8 L1060.1,887.9 L1061.7,895.2 L1063.2,886.0 L1064.8,898.8 L1066.3,884.4 L1067.9,895.1 L1069.4,885.2 L1070.9,898.7 L1072.5,885.4 L1074.0,895.9 L1075.6,888.4 L1077.1,898.6 L1078.7,887.7 L1080.2,896.1 L1081.8,886.4 L1083.3,896.1 L1084.8,884.9 L1086.4,895.4 L1087.9,889.2 L1089.5,897.2 L1091.0,886.0 L1092.6,898.6 L1094.1,885.5 L1095.7,899.0 L1097.2,884.2 L1098.7,896.8 L1100.3,886.7 L1101.8,894.9 L1103.4,887.7 L1104.9,897.2 L1106.5,888.9 L1108.0,897.8 L1109.6,888.5 L1111.1,896.5 L1112.6,884.1 L1114.2,894.5 L1115.7,889.1 L1117.3,896.4 L1118.8,888.3 L1120.4,898.0 L1121.9,889.3 L1123.5,898.6 L1125.0,884.6 L1126.5,898.3 L1128.1,887.0 L1129.6,895.5 L1131.2,885.7 L1132.7,896.8 L1134.3,887.0 L1135.8,895.8 L1137.3,886.9 L1138.9,897.6 L1140.4,884.8 L1142.0,898.9 L1143.5,888.4 L1145.1,895.5 L1146.6,886.8 L1148.2,897.0 L1149.7,887.3 L1151.2,895.0 L1152.8,888.8 L1154.3,895.7 L1155.9,886.7 L1157.4,899.2 L1159.0,884.3 L1160.5,898.6 L1162.1,883.9 L1163.6,899.1 L1165.1,885.8 L1166.7,898.3 L1168.2,888.9 L1169.8,897.6 L1171.3,885.9 L1172.9,895.5 L1174.4,886.1 L1176.0,899.0 L1177.5,886.5 L1179.2,895.2 L1180.8,883.2 L1182.5,889.2 L1184.2,873.7 L1185.8,879.2 L1187.5,872.5 L1189.2,864.2 L1190.8,855.8 L1192.5,850.3 L1194.4,837.2 L1196.2,843.1 L1198.1,832.0 L1200.0,840.9 L1201.7,833.1 L1203.3,845.8 L1205.0,838.0 L1206.6,849.2 L1208.1,846.7 L1209.7,860.9 L1211.2,852.2 L1212.9,863.4 L1214.6,856.3 L1216.2,870.0 L1217.9,864.0 L1219.6,872.7 L1221.2,864.3 L1222.8,872.3 L1224.4,861.1 L1225.9,869.3 L1227.5,865.0 L1229.4,855.0 L1231.2,839.9 L1233.1,843.1 L1235.0,827.2 L1236.5,833.3 L1238.0,824.8 L1239.5,834.7 L1241.0,825.4 L1242.5,840.3 L1244.1,828.8 L1245.6,841.5 L1247.2,832.0 L1248.8,835.0 L1250.0,823.8 L1251.2,812.5 L1253.5,762.0 L1253.8,775.0 L1255.5,725.0 L1256.9,676.2 L1258.3,627.5 L1259.9,593.3 L1261.4,559.2 L1263.0,525.0 L1264.6,559.2 L1266.1,593.3 L1267.7,627.5 L1269.5,682.5 L1271.2,737.5 L1272.5,762.0 L1273.8,787.5 L1275.0,806.2 L1276.2,825.0 L1277.5,836.2 L1278.8,841.8 L1280.6,858.4 L1282.5,849.6 L1284.1,863.6 L1285.6,850.4 L1287.2,862.0 L1288.8,853.6 L1290.4,863.0 L1292.1,851.0 L1293.8,862.3 L1295.4,851.5 L1297.1,863.4 L1298.8,858.1 L1300.6,875.1 L1302.5,867.5 L1304.4,886.3 L1306.2,882.4 L1307.9,891.9 L1309.6,884.6 L1311.2,894.1 L1313.1,877.7 L1315.0,883.0 L1316.7,871.8 L1318.3,884.4 L1320.0,873.8 L1321.7,882.6 L1323.3,876.1 L1325.0,889.4 L1326.9,881.4 L1328.8,894.2 L1330.3,889.0 L1331.9,894.6 L1333.4,885.1 L1335.0,895.4 L1336.5,886.6 L1338.1,895.9 L1339.6,885.9 L1341.2,896.4 L1342.7,888.8 L1344.3,899.1 L1345.8,886.7 L1347.3,898.0 L1348.9,885.2 L1350.4,899.4 L1352.0,889.5 L1353.5,896.1 L1355.0,888.7 L1356.6,897.0 L1358.1,884.8 L1359.7,898.6 L1361.2,889.3 L1362.8,895.2 L1364.3,885.1 L1365.8,897.9 L1367.4,887.4 L1368.9,896.8 L1370.5,888.6 L1372.0,898.8 L1373.6,887.3 L1375.1,898.9 L1376.6,886.1 L1378.2,894.6 L1379.7,887.7 L1381.3,895.3 L1382.8,884.6 L1384.4,897.3 L1385.9,889.2 L1387.4,895.0 L1389.0,887.4 L1390.5,896.6 L1392.1,886.2 L1393.6,896.2 L1395.1,887.5 L1396.7,894.1 L1398.2,886.2 L1399.8,895.9 L1401.3,889.2 L1402.9,896.5 L1404.4,884.0 L1405.9,894.3 L1407.5,888.5 L1409.0,897.7 L1410.6,887.8 L1412.1,895.5 L1413.7,886.6 L1415.2,895.4 L1416.7,886.2 L1418.3,896.8 L1419.8,884.0 L1421.4,899.4 L1422.9,889.1 L1424.5,897.0 L1426.0,885.0 L1427.5,898.7 L1429.1,885.0 L1430.6,897.4 L1432.2,885.8 L1433.7,895.9 L1435.2,887.7 L1436.8,898.2 L1438.3,884.4 L1439.9,899.0 L1441.4,885.5 L1443.0,895.5 L1444.5,885.0 L1446.0,897.9 L1447.6,886.4 L1449.1,897.3 L1450.7,887.2 L1452.2,896.8 L1453.8,886.9 L1455.3,894.1 L1456.8,887.3 L1458.4,895.5 L1459.9,883.7 L1461.5,896.4 L1463.0,887.1 L1464.5,895.1 L1466.1,887.8 L1467.6,895.6 L1469.2,888.3 L1470.7,893.8 L1472.3,884.3 L1473.8,896.2 L1475.3,886.6 L1476.9,896.8 L1478.4,887.4 L1480.0,894.6 L1481.5,888.6 L1483.1,895.3 L1484.6,887.3 L1486.1,897.6 L1487.7,886.0 L1489.2,898.8 L1490.8,887.1 L1492.3,898.7 L1493.9,885.7 L1495.4,894.0 L1496.9,887.9 L1498.5,896.8 L1500.0,883.5 L1501.6,895.5 L1503.1,884.7 L1504.6,895.9 L1506.2,884.1 L1507.7,893.9 L1509.3,886.2 L1510.8,898.4 L1512.4,887.3 L1513.9,894.9 L1515.4,888.7 L1517.0,894.4 L1518.5,887.4 L1520.1,897.3 L1521.6,887.6 L1523.2,895.7 L1524.7,887.7 L1526.2,896.8 L1527.8,884.1 L1529.3,897.0 L1530.9,887.7 L1532.4,897.4 L1534.0,883.5 L1535.5,896.7 L1537.0,888.3 L1538.6,897.8 L1540.1,883.9 L1541.7,895.3 L1543.2,888.0 L1544.7,894.4 L1546.3,885.8 L1547.8,898.1 L1549.4,885.2 L1550.9,898.4 L1552.5,887.5 L1554.0,895.1 L1555.7,883.0 L1557.3,893.7 L1559.0,881.7 L1560.7,891.5 L1562.3,880.4 L1564.0,886.4 L1565.7,878.9 L1567.3,885.9 L1569.0,877.4 L1570.7,887.1 L1572.3,877.7 L1574.0,888.1 L1575.7,876.3 L1577.3,882.4 L1579.0,872.6 L1580.6,881.1 L1582.1,867.1 L1583.7,879.0 L1585.2,867.4 L1587.1,880.7 L1589.0,873.7 L1590.7,885.4 L1592.3,879.6 L1594.0,886.9 L1595.7,877.7 L1597.3,884.4 L1599.0,875.0 L1600.7,866.7 L1602.3,858.3 L1604.0,850.0 L1605.7,840.0 L1607.3,830.0 L1609.0,820.0 L1610.2,797.5 L1611.5,775.0 L1612.3,762.0 L1613.7,731.0 L1615.0,700.0 L1616.6,640.5 L1618.2,581.0 L1619.9,521.5 L1621.5,462.0 L1622.8,431.0 L1624.0,400.0 L1625.5,365.5 L1627.1,331.0 L1628.7,298.7 L1630.2,266.3 L1631.8,234.0 L1633.3,211.0 L1634.9,188.0 L1636.4,165.0 L1638.0,188.0 L1639.5,211.0 L1641.1,234.0 L1643.1,331.0 L1644.4,365.5 L1645.8,400.0 L1648.0,462.0 L1649.5,509.6 L1650.9,557.2 L1652.3,604.8 L1653.8,652.4 L1655.2,700.0 L1657.1,725.0 L1659.0,750.0 L1660.9,768.8 L1662.8,787.5 L1664.6,800.0 L1666.5,815.7 L1668.4,816.3 L1670.2,831.6 L1672.1,822.6 L1674.0,835.2 L1675.9,821.2 L1677.8,825.0 L1679.6,812.5 L1681.5,800.0 L1682.8,781.2 L1684.0,762.5 L1685.2,743.8 L1686.5,725.0 L1687.8,712.5 L1689.0,700.0 L1690.4,663.3 L1691.7,626.7 L1693.1,590.0 L1694.6,565.7 L1696.2,541.3 L1697.8,517.0 L1699.3,541.3 L1700.9,565.7 L1702.4,590.0 L1704.2,645.0 L1706.0,700.0 L1707.5,725.0 L1709.0,750.0 L1710.9,775.0 L1712.8,800.0 L1714.6,818.8 L1716.5,837.5 L1718.4,851.2 L1720.2,865.0 L1721.5,871.2 L1722.8,872.1 L1724.4,881.5 L1726.1,872.1 L1727.8,887.1 L1729.4,877.0 L1731.1,888.1 L1732.8,875.7 L1734.6,888.3 L1736.5,882.1 L1738.2,891.7 L1739.8,879.9 L1741.5,890.7 L1743.2,880.2 L1744.8,890.6 L1746.5,878.9 L1748.2,888.0 L1749.8,874.1 L1751.5,883.5 L1753.2,872.0 L1754.8,882.6 L1756.5,870.9 L1758.2,883.7 L1759.8,872.5 L1761.5,882.1 L1763.2,868.5 L1764.8,881.5 L1766.5,876.3 L1767.8,882.3 L1769.0,872.3 L1770.2,879.9 L1771.5,867.7 L1773.1,878.2 L1774.6,868.6 L1776.2,877.9 L1777.8,871.7 L1779.0,884.2 L1780.2,878.4 L1781.9,885.6 L1783.5,874.3 L1785.1,888.0 L1786.7,874.8 L1788.3,889.8 L1789.9,879.8 L1791.5,886.1" stroke="#0072BD" stroke-width="1.7" stroke-opacity="0.8"/>
<path d="M254.0,884.9 L255.6,885.5 L257.2,884.8 L258.9,884.7 L260.5,884.1 L262.1,884.8 L263.8,885.1 L265.6,878.9 L267.5,872.6 L269.1,864.4 L270.6,856.4 L272.2,848.2 L273.8,839.3 L275.4,838.4 L277.1,835.5 L278.8,832.7 L280.4,833.3 L282.1,835.8 L283.8,839.9 L285.6,856.1 L287.5,872.6 L289.4,876.8 L291.2,881.5 L292.7,881.0 L294.2,882.4 L295.6,882.9 L297.1,882.3 L298.5,885.1 L300.0,884.0 L301.5,883.7 L303.0,880.6 L304.5,879.3 L306.0,878.4 L307.5,877.5 L309.2,876.5 L310.8,874.4 L312.5,872.3 L314.0,871.0 L315.5,871.0 L317.0,872.2 L318.5,869.7 L320.0,870.1 L321.7,867.1 L323.3,861.8 L325.0,860.0 L326.7,852.1 L328.3,842.7 L330.0,835.0 L331.7,825.8 L333.3,816.4 L335.0,807.6 L336.7,796.6 L338.3,785.4 L340.0,775.1 L341.9,765.2 L343.8,755.4 L345.6,754.6 L347.5,751.4 L349.2,753.5 L350.8,754.1 L352.5,757.6 L354.4,772.3 L356.2,787.4 L358.1,802.1 L360.0,817.4 L361.7,822.3 L363.3,827.9 L365.0,832.3 L366.7,837.9 L368.3,844.2 L370.0,850.2 L371.9,857.7 L373.8,864.2 L375.3,864.4 L376.9,869.1 L378.4,869.9 L380.0,872.1 L381.7,875.1 L383.3,876.9 L385.0,877.6 L386.5,879.0 L388.0,880.4 L389.5,881.9 L390.9,879.0 L392.3,875.9 L393.8,872.7 L395.3,870.0 L396.9,871.9 L398.4,870.6 L400.0,869.0 L401.7,867.0 L403.3,868.5 L405.0,870.2 L406.7,867.8 L408.3,869.6 L410.0,870.4 L411.7,870.8 L413.3,875.8 L415.0,876.5 L416.7,875.5 L418.3,875.3 L420.0,875.0 L421.7,873.9 L423.3,874.3 L425.0,872.2 L426.7,873.8 L428.3,876.9 L430.0,877.5 L431.5,878.1 L433.0,881.4 L434.5,883.5 L436.0,883.1 L437.5,884.4 L439.2,885.7 L440.8,886.5 L442.5,887.2 L444.2,889.7 L445.8,888.1 L447.5,890.5 L449.1,889.0 L450.6,889.7 L452.2,891.4 L453.8,892.1 L455.3,892.1 L456.9,891.8 L458.4,891.9 L460.0,892.1 L461.5,892.6 L463.1,891.8 L464.6,892.3 L466.2,892.6 L467.7,892.0 L469.2,892.8 L470.8,892.6 L472.3,894.0 L473.9,892.3 L475.4,891.6 L476.9,891.6 L478.5,892.0 L480.0,892.9 L481.6,891.6 L483.1,892.4 L484.6,893.8 L486.2,889.4 L487.7,890.8 L489.3,892.2 L490.8,892.4 L492.3,892.2 L493.9,891.5 L495.4,892.6 L497.0,892.2 L498.5,891.4 L500.0,894.4 L501.6,892.3 L503.1,891.4 L504.7,891.8 L506.2,891.7 L507.7,891.9 L509.3,889.2 L510.8,891.4 L512.3,892.9 L513.9,890.8 L515.4,891.9 L517.0,892.9 L518.5,892.8 L520.0,893.4 L521.6,890.2 L523.1,891.6 L524.7,891.6 L526.2,892.5 L527.7,893.0 L529.3,889.2 L530.8,893.0 L532.4,890.5 L533.9,892.6 L535.4,890.4 L537.0,892.1 L538.5,893.1 L540.1,891.7 L541.6,892.1 L543.1,892.7 L544.7,892.0 L546.2,891.8 L547.8,893.4 L549.3,892.9 L550.8,891.6 L552.4,894.6 L553.9,890.7 L555.5,892.8 L557.0,891.6 L558.5,892.0 L560.1,892.6 L561.6,892.1 L563.2,892.5 L564.7,890.3 L566.2,890.4 L567.8,892.5 L569.3,890.9 L570.9,890.8 L572.4,890.4 L573.9,893.1 L575.5,892.6 L577.0,893.3 L578.6,890.9 L580.1,891.8 L581.6,890.7 L583.2,892.6 L584.7,893.4 L586.3,890.9 L587.8,893.4 L589.3,892.8 L590.9,891.7 L592.4,889.9 L594.0,893.2 L595.5,891.7 L597.0,891.2 L598.6,892.2 L600.1,892.2 L601.7,893.3 L603.2,890.8 L604.7,892.9 L606.3,893.3 L607.8,893.3 L609.3,891.6 L610.9,891.1 L612.4,892.8 L614.0,891.9 L615.5,891.9 L617.0,893.2 L618.6,891.5 L620.1,889.5 L621.7,891.4 L623.2,889.9 L624.7,892.6 L626.3,892.1 L627.8,891.2 L629.4,891.8 L630.9,892.6 L632.4,891.9 L634.0,893.1 L635.5,891.7 L637.1,892.8 L638.6,893.3 L640.1,893.4 L641.7,891.1 L643.2,892.6 L644.8,889.9 L646.3,890.7 L647.8,889.8 L649.4,892.8 L650.9,890.5 L652.5,891.7 L654.0,891.6 L655.5,891.7 L657.1,891.2 L658.6,892.0 L660.2,893.5 L661.7,891.8 L663.2,892.3 L664.8,892.7 L666.3,891.5 L667.9,890.5 L669.4,891.2 L670.9,892.8 L672.5,890.1 L674.0,891.1 L675.6,892.7 L677.1,892.5 L678.6,891.7 L680.2,892.5 L681.7,891.9 L683.3,890.5 L684.8,890.1 L686.3,891.1 L687.9,892.6 L689.4,891.1 L691.0,890.8 L692.5,890.9 L694.0,890.2 L695.6,891.6 L697.1,890.5 L698.7,892.1 L700.2,889.3 L701.7,892.0 L703.3,891.0 L704.8,889.7 L706.3,892.4 L707.9,891.4 L709.4,889.4 L711.0,890.8 L712.5,892.0 L714.0,891.2 L715.6,892.5 L717.1,892.4 L718.7,892.3 L720.2,892.0 L721.7,893.0 L723.3,892.3 L724.8,892.1 L726.4,889.6 L727.9,892.6 L729.4,893.0 L731.0,891.4 L732.5,891.2 L734.1,893.6 L735.6,889.9 L737.1,892.1 L738.7,894.1 L740.2,890.7 L741.8,892.3 L743.3,893.5 L744.8,891.5 L746.4,892.2 L747.9,892.5 L749.5,890.7 L751.0,891.5 L752.5,891.9 L754.1,892.4 L755.6,891.6 L757.2,891.4 L758.7,890.6 L760.2,891.3 L761.8,892.5 L763.3,891.7 L764.9,890.8 L766.4,890.8 L767.9,894.3 L769.5,892.7 L771.0,892.2 L772.6,889.0 L774.1,892.2 L775.6,892.1 L777.2,893.3 L778.7,892.0 L780.3,891.5 L781.8,892.1 L783.3,889.6 L784.9,892.6 L786.4,891.9 L788.0,890.9 L789.5,892.9 L791.0,893.4 L792.6,890.2 L794.1,890.9 L795.7,891.9 L797.2,891.7 L798.7,891.2 L800.3,890.6 L801.8,893.7 L803.3,892.6 L804.9,890.4 L806.4,890.2 L808.0,893.3 L809.5,892.5 L811.0,893.4 L812.6,892.4 L814.1,890.7 L815.7,891.8 L817.2,889.4 L818.7,890.8 L820.3,891.5 L821.8,892.1 L823.4,890.8 L824.9,891.4 L826.4,892.0 L828.0,891.9 L829.5,892.2 L831.1,891.7 L832.6,891.2 L834.1,892.3 L835.7,891.6 L837.2,890.7 L838.8,890.9 L840.3,891.5 L841.8,891.4 L843.4,891.7 L844.9,891.5 L846.5,891.7 L848.0,891.4 L849.7,888.9 L851.3,889.3 L853.0,887.9 L854.6,883.6 L856.1,878.6 L857.7,874.8 L859.2,869.6 L860.9,863.9 L862.6,861.7 L864.2,857.1 L865.9,857.4 L867.6,854.7 L869.2,853.9 L870.8,855.2 L872.4,859.1 L873.9,858.4 L875.5,859.5 L877.0,863.2 L878.5,868.5 L880.0,872.5 L881.5,876.2 L883.0,880.6 L884.5,881.7 L886.0,882.0 L887.5,883.6 L889.0,885.7 L890.5,885.4 L892.0,884.5 L893.5,880.9 L895.0,880.4 L896.5,879.7 L898.0,877.4 L899.5,875.6 L901.0,872.1 L902.5,869.4 L904.0,865.3 L905.5,863.5 L907.1,861.2 L908.6,857.3 L910.2,855.1 L911.8,853.5 L913.6,850.3 L915.5,849.1 L917.1,851.3 L918.6,851.9 L920.2,852.3 L921.8,855.0 L923.3,860.7 L924.9,866.6 L926.4,872.1 L928.0,877.5 L929.6,880.5 L931.1,882.4 L932.7,884.3 L934.2,886.3 L935.8,886.9 L937.4,888.8 L938.9,888.0 L940.5,889.7 L942.1,890.0 L943.7,888.5 L945.3,889.6 L946.9,888.0 L948.5,889.3 L950.1,890.6 L951.8,890.2 L953.4,887.4 L955.1,884.8 L956.8,881.9 L958.2,884.1 L959.7,882.6 L961.1,883.0 L962.6,880.8 L964.0,881.3 L965.5,880.5 L967.0,882.5 L968.5,883.2 L970.0,880.9 L971.5,883.2 L973.0,884.0 L974.7,879.9 L976.3,877.8 L978.0,877.1 L979.4,875.6 L980.8,873.6 L982.1,873.8 L983.5,872.6 L984.9,875.6 L986.4,878.2 L987.8,881.5 L989.2,883.0 L990.7,882.4 L992.2,884.5 L993.6,885.2 L995.1,886.4 L996.5,888.7 L998.0,890.0 L999.7,891.2 L1001.3,889.7 L1003.0,891.5 L1004.5,892.0 L1006.1,891.8 L1007.6,891.7 L1009.2,891.9 L1010.7,891.2 L1012.3,892.7 L1013.8,892.3 L1015.4,891.9 L1016.9,891.3 L1018.4,891.8 L1020.0,889.2 L1021.5,891.0 L1023.1,892.0 L1024.6,890.4 L1026.2,892.1 L1027.7,892.1 L1029.3,890.5 L1030.8,891.7 L1032.3,891.6 L1033.9,892.4 L1035.4,892.5 L1037.0,891.9 L1038.5,891.0 L1040.1,891.7 L1041.6,891.8 L1043.2,892.6 L1044.7,892.2 L1046.2,891.2 L1047.8,890.5 L1049.3,891.5 L1050.9,891.1 L1052.4,890.7 L1054.0,891.7 L1055.5,891.4 L1057.0,892.0 L1058.6,892.4 L1060.1,891.4 L1061.7,894.2 L1063.2,891.5 L1064.8,892.9 L1066.3,891.9 L1067.9,892.9 L1069.4,889.4 L1070.9,891.1 L1072.5,892.0 L1074.0,892.4 L1075.6,894.1 L1077.1,892.1 L1078.7,893.1 L1080.2,892.5 L1081.8,892.7 L1083.3,892.3 L1084.8,891.6 L1086.4,892.3 L1087.9,890.7 L1089.5,892.9 L1091.0,890.7 L1092.6,892.0 L1094.1,893.9 L1095.7,891.5 L1097.2,891.7 L1098.7,892.9 L1100.3,891.7 L1101.8,890.9 L1103.4,892.0 L1104.9,892.3 L1106.5,892.4 L1108.0,890.9 L1109.6,893.4 L1111.1,893.4 L1112.6,891.7 L1114.2,892.0 L1115.7,891.2 L1117.3,893.1 L1118.8,891.0 L1120.4,892.3 L1121.9,891.2 L1123.5,891.0 L1125.0,892.4 L1126.5,893.0 L1128.1,891.6 L1129.6,891.0 L1131.2,892.4 L1132.7,891.6 L1134.3,891.9 L1135.8,893.1 L1137.3,892.7 L1138.9,891.1 L1140.4,893.9 L1142.0,891.6 L1143.5,892.4 L1145.1,890.9 L1146.6,891.5 L1148.2,889.8 L1149.7,893.4 L1151.2,892.9 L1152.8,890.4 L1154.3,890.1 L1155.9,889.9 L1157.4,892.7 L1159.0,891.1 L1160.5,891.5 L1162.1,891.2 L1163.6,891.4 L1165.1,890.4 L1166.7,891.6 L1168.2,890.1 L1169.8,891.5 L1171.3,891.8 L1172.9,892.0 L1174.4,891.3 L1176.0,890.6 L1177.5,891.6 L1179.2,888.8 L1180.8,888.7 L1182.5,885.3 L1184.2,880.7 L1185.8,876.2 L1187.5,872.4 L1189.2,863.9 L1190.8,855.7 L1192.5,847.6 L1194.4,843.6 L1196.2,839.0 L1198.1,839.6 L1200.0,836.0 L1201.7,838.3 L1203.3,843.2 L1205.0,841.8 L1206.6,845.7 L1208.1,850.2 L1209.7,853.9 L1211.2,857.7 L1212.9,860.2 L1214.6,863.7 L1216.2,866.3 L1217.9,867.6 L1219.6,865.5 L1221.2,867.6 L1222.8,867.2 L1224.4,865.5 L1225.9,864.7 L1227.5,865.1 L1229.4,854.8 L1231.2,845.1 L1233.1,837.7 L1235.0,830.1 L1236.5,829.3 L1238.0,827.5 L1239.5,828.6 L1241.0,832.5 L1242.5,835.2 L1244.1,834.5 L1245.6,834.9 L1247.2,835.7 L1248.8,834.9 L1250.0,823.9 L1251.2,812.7 L1253.5,761.9 L1253.8,775.0 L1255.5,725.0 L1256.9,676.7 L1258.3,627.5 L1259.9,593.6 L1261.4,559.0 L1263.0,525.0 L1264.6,559.2 L1266.1,592.8 L1267.7,627.7 L1269.5,682.8 L1271.2,737.3 L1272.5,762.1 L1273.8,787.5 L1275.0,806.4 L1276.2,825.0 L1277.5,835.8 L1278.8,847.4 L1280.6,852.7 L1282.5,854.8 L1284.1,855.2 L1285.6,856.1 L1287.2,857.5 L1288.8,860.1 L1290.4,860.4 L1292.1,857.9 L1293.8,856.3 L1295.4,860.6 L1297.1,859.9 L1298.8,862.4 L1300.6,868.9 L1302.5,875.2 L1304.4,879.0 L1306.2,884.5 L1307.9,886.5 L1309.6,887.7 L1311.2,888.2 L1313.1,884.2 L1315.0,879.8 L1316.7,879.6 L1318.3,878.2 L1320.0,877.5 L1321.7,878.8 L1323.3,881.9 L1325.0,883.1 L1326.9,886.5 L1328.8,891.6 L1330.3,890.7 L1331.9,891.7 L1333.4,892.6 L1335.0,892.6 L1336.5,891.6 L1338.1,891.9 L1339.6,892.2 L1341.2,890.5 L1342.7,892.0 L1344.3,891.3 L1345.8,892.3 L1347.3,890.8 L1348.9,890.0 L1350.4,892.0 L1352.0,892.2 L1353.5,891.4 L1355.0,892.8 L1356.6,891.6 L1358.1,891.3 L1359.7,892.4 L1361.2,890.3 L1362.8,891.2 L1364.3,891.8 L1365.8,892.7 L1367.4,891.7 L1368.9,892.2 L1370.5,891.2 L1372.0,892.1 L1373.6,893.5 L1375.1,891.1 L1376.6,894.2 L1378.2,891.2 L1379.7,891.8 L1381.3,892.0 L1382.8,892.8 L1384.4,890.5 L1385.9,889.7 L1387.4,892.4 L1389.0,892.5 L1390.5,892.4 L1392.1,894.4 L1393.6,891.9 L1395.1,892.0 L1396.7,892.6 L1398.2,892.1 L1399.8,893.4 L1401.3,890.5 L1402.9,891.3 L1404.4,888.2 L1405.9,892.5 L1407.5,891.3 L1409.0,892.6 L1410.6,893.8 L1412.1,891.6 L1413.7,891.4 L1415.2,891.1 L1416.7,890.8 L1418.3,891.0 L1419.8,892.3 L1421.4,891.6 L1422.9,891.7 L1424.5,891.4 L1426.0,892.5 L1427.5,892.1 L1429.1,891.4 L1430.6,892.2 L1432.2,891.4 L1433.7,890.4 L1435.2,893.0 L1436.8,892.0 L1438.3,890.6 L1439.9,892.6 L1441.4,891.9 L1443.0,889.9 L1444.5,893.1 L1446.0,891.8 L1447.6,892.4 L1449.1,891.7 L1450.7,891.3 L1452.2,889.9 L1453.8,892.4 L1455.3,891.5 L1456.8,891.2 L1458.4,891.8 L1459.9,891.5 L1461.5,892.1 L1463.0,891.0 L1464.5,891.4 L1466.1,889.3 L1467.6,891.0 L1469.2,892.1 L1470.7,892.7 L1472.3,891.0 L1473.8,891.2 L1475.3,892.9 L1476.9,891.0 L1478.4,892.1 L1480.0,893.0 L1481.5,891.4 L1483.1,892.6 L1484.6,890.6 L1486.1,891.5 L1487.7,891.2 L1489.2,891.4 L1490.8,892.4 L1492.3,893.7 L1493.9,890.6 L1495.4,890.7 L1496.9,891.8 L1498.5,890.2 L1500.0,891.7 L1501.6,891.8 L1503.1,891.0 L1504.6,891.8 L1506.2,889.7 L1507.7,892.0 L1509.3,889.7 L1510.8,890.5 L1512.4,890.6 L1513.9,890.8 L1515.4,892.0 L1517.0,891.3 L1518.5,890.8 L1520.1,891.7 L1521.6,892.7 L1523.2,891.1 L1524.7,891.5 L1526.2,892.4 L1527.8,891.4 L1529.3,889.8 L1530.9,893.6 L1532.4,893.3 L1534.0,889.1 L1535.5,891.0 L1537.0,891.5 L1538.6,892.0 L1540.1,891.7 L1541.7,890.8 L1543.2,890.0 L1544.7,891.1 L1546.3,892.1 L1547.8,889.9 L1549.4,890.0 L1550.9,891.0 L1552.5,889.1 L1554.0,890.9 L1555.7,889.0 L1557.3,888.3 L1559.0,886.0 L1560.7,884.5 L1562.3,884.2 L1564.0,883.7 L1565.7,882.9 L1567.3,883.3 L1569.0,883.9 L1570.7,884.1 L1572.3,884.4 L1574.0,882.2 L1575.7,879.6 L1577.3,875.0 L1579.0,875.8 L1580.6,873.0 L1582.1,872.5 L1583.7,871.8 L1585.2,869.5 L1587.1,875.5 L1589.0,880.0 L1590.7,879.4 L1592.3,882.8 L1594.0,884.2 L1595.7,879.0 L1597.3,878.7 L1599.0,875.0 L1600.7,866.8 L1602.3,858.5 L1604.0,850.2 L1605.7,839.9 L1607.3,830.3 L1609.0,820.0 L1610.2,797.7 L1611.5,774.9 L1612.3,762.0 L1613.7,731.5 L1615.0,700.1 L1616.6,640.5 L1618.2,580.7 L1619.9,521.3 L1621.5,462.0 L1622.8,431.3 L1624.0,400.1 L1625.5,365.7 L1627.1,331.0 L1628.7,299.1 L1630.2,266.2 L1631.8,233.9 L1633.3,211.3 L1634.9,188.0 L1636.4,165.0 L1638.0,187.8 L1639.5,210.9 L1641.1,234.1 L1643.1,331.0 L1644.4,365.1 L1645.8,400.1 L1648.0,462.0 L1649.5,509.3 L1650.9,557.4 L1652.3,604.7 L1653.8,652.3 L1655.2,700.1 L1657.1,725.4 L1659.0,749.9 L1660.9,768.9 L1662.8,787.4 L1664.6,800.7 L1666.5,812.4 L1668.4,819.1 L1670.2,824.7 L1672.1,827.1 L1674.0,828.4 L1675.9,823.7 L1677.8,824.9 L1679.6,812.7 L1681.5,800.0 L1682.8,781.0 L1684.0,762.8 L1685.2,743.8 L1686.5,724.8 L1687.8,712.8 L1689.0,699.8 L1690.4,663.7 L1691.7,626.5 L1693.1,590.0 L1694.6,566.0 L1696.2,541.4 L1697.8,516.8 L1699.3,540.8 L1700.9,566.0 L1702.4,590.1 L1704.2,644.8 L1706.0,700.1 L1707.5,725.1 L1709.0,750.1 L1710.9,774.3 L1712.8,800.0 L1714.6,819.0 L1716.5,837.6 L1718.4,851.5 L1720.2,864.7 L1721.5,871.3 L1722.8,877.7 L1724.4,880.9 L1726.1,878.2 L1727.8,879.9 L1729.4,880.9 L1731.1,882.6 L1732.8,882.3 L1734.6,885.5 L1736.5,885.9 L1738.2,886.9 L1739.8,886.6 L1741.5,887.6 L1743.2,885.6 L1744.8,883.4 L1746.5,884.2 L1748.2,882.8 L1749.8,880.7 L1751.5,880.1 L1753.2,880.2 L1754.8,877.4 L1756.5,877.4 L1758.2,877.2 L1759.8,876.4 L1761.5,874.9 L1763.2,874.1 L1764.8,878.7 L1766.5,878.9 L1767.8,879.4 L1769.0,879.9 L1770.2,877.8 L1771.5,874.8 L1773.1,874.0 L1774.6,874.3 L1776.2,874.4 L1777.8,874.8 L1779.0,877.0 L1780.2,881.5 L1781.9,880.1 L1783.5,882.3 L1785.1,880.8 L1786.7,882.3 L1788.3,883.5 L1789.9,882.5 L1791.5,882.2" stroke="#0072BD" stroke-width="8" style="filter:blur(1px)"/>
<path d="M267.5,872.5 L273.8,840.0 M283.8,840.0 L287.5,872.5 M330.0,835.0 L335.0,807.5 L340.0,775.0 L343.8,755.0 M352.5,757.5 L356.2,787.5 L360.0,817.5 M1227.5,865.0 L1231.2,845.0 M1248.8,835.0 L1251.2,812.5 L1253.5,762.0 L1253.8,775.0 L1255.5,725.0 L1258.3,627.5 L1263.0,525.0 L1267.7,627.5 L1271.2,737.5 L1272.5,762.0 L1273.8,787.5 L1276.2,825.0 L1278.8,847.5 M1604.0,850.0 L1609.0,820.0 L1611.5,775.0 L1612.3,762.0 L1615.0,700.0 L1621.5,462.0 L1624.0,400.0 L1627.1,331.0 L1631.8,234.0 L1636.4,165.0 L1641.1,234.0 L1643.1,331.0 L1645.8,400.0 L1648.0,462.0 L1655.2,700.0 L1659.0,750.0 L1662.8,787.5 L1666.5,812.5 M1677.8,825.0 L1681.5,800.0 L1684.0,762.5 L1686.5,725.0 L1689.0,700.0 L1693.1,590.0 L1697.8,517.0 L1702.4,590.0 L1706.0,700.0 L1709.0,750.0 L1712.8,800.0 L1716.5,837.5 L1720.2,865.0" stroke="#0072BD" stroke-width="8.9" style="filter:blur(0.9px)"/>
</g>
<g id="legend" font-family="'Liberation Sans', sans-serif">
<line x1="385.6" y1="173" x2="514.4" y2="173" stroke="#0072BD" stroke-width="8.6"/>
<line x1="385.6" y1="258.4" x2="514.4" y2="258.4" stroke="#D95319" stroke-width="8.6"/>
<text transform="translate(520.60 199.80) scale(1.0 1.05)" font-size="68.6" fill="#000" stroke="#fff" stroke-width="0.5">Nanostars</text>
<text transform="translate(520.60 282.40) scale(1.0 1.05)" font-size="68.6" fill="#000" stroke="#fff" stroke-width="0.5">Nanoparticles</text>
</g>
<g id="ticklabels" font-family="'Liberation Sans', sans-serif">
<text transform="scale(0.965 1.015)" x="151.74 192.76" y="327.59" font-size="77.0" fill="#262626" stroke="#fff" stroke-width="1.0">15</text><rect x="150.64" y="325.52" width="14.93" height="8.51" fill="#fff"/><rect x="171.23" y="325.52" width="14.35" height="8.51" fill="#fff"/>
<text transform="scale(0.965 1.015)" x="151.74 192.68" y="619.11" font-size="77.0" fill="#262626" stroke="#fff" stroke-width="1.0">10</text><rect x="150.64" y="621.42" width="14.93" height="8.51" fill="#fff"/><rect x="171.23" y="621.42" width="14.35" height="8.51" fill="#fff"/>
<text transform="scale(0.965 1.015)" x="192.65" y="905.91" font-size="77.0" fill="#262626" stroke="#fff" stroke-width="1.0">5</text>
<text transform="scale(0.965 1.015)" x="192.58" y="1197.24" font-size="77.0" fill="#262626" stroke="#fff" stroke-width="1.0">0</text>
<text transform="scale(0.965 1.015)" x="195.97 238.59 281.80" y="1266.31" font-size="77.0" fill="#262626" stroke="#fff" stroke-width="1.0">500</text>
<text transform="scale(0.965 1.015)" x="974.54 1015.69 1060.97 1104.39" y="1266.31" font-size="77.0" fill="#262626" stroke="#fff" stroke-width="1.0">1000</text><rect x="944.64" y="1278.32" width="14.93" height="8.51" fill="#fff"/><rect x="965.23" y="1278.32" width="14.35" height="8.51" fill="#fff"/>
<text transform="scale(0.965 1.015)" x="1771.33 1812.65 1857.86 1900.76" y="1266.31" font-size="77.0" fill="#262626" stroke="#fff" stroke-width="1.0">1500</text><rect x="1713.54" y="1278.32" width="14.93" height="8.51" fill="#fff"/><rect x="1734.13" y="1278.32" width="14.35" height="8.51" fill="#fff"/>
</g>
<g id="axlabels" font-family="'Liberation Sans', sans-serif">
<text transform="scale(1 1.02)" y="1387.25" font-size="84.0" fill="#262626" stroke="#fff" stroke-width="1.0"><tspan x="679.11">Raman </tspan><tspan x="971.96" letter-spacing="-0.8">shift </tspan><tspan x="1146.21">[cm</tspan><tspan x="1284.20" dy="-40.20" font-size="67.5">-</tspan><tspan x="1306.44" font-size="67.5">1</tspan><tspan x="1344.95" dy="40.20">]</tspan></text>
<rect x="1310.27" y="1367.85" width="13.60" height="7.50" fill="#fff"/>
<rect x="1328.93" y="1367.85" width="12.62" height="7.50" fill="#fff"/>
<text transform="translate(97.0 1057.6) rotate(-90) scale(1 1.02)" font-size="84.0" fill="#262626" stroke="#fff" stroke-width="1.0">Raman Intensity <tspan letter-spacing="0.7">[a.u.]</tspan></text>
</g>
<g id="title" font-family="'Liberation Sans', sans-serif">
<text transform="translate(1086.00 72.60) scale(0.945 1.0)" font-size="70.9" fill="#000" stroke="#fff" stroke-width="0.6">Thiram</text>
</g>
<g id="mol" font-family="'DejaVu Sans', 'Liberation Sans', sans-serif" fill="#0a0a0a" stroke="#fff" stroke-width="0.5">
<g stroke="#1a1a1a" stroke-width="2.5" fill="none">
<line x1="1170.5" y1="159.2" x2="1178.6" y2="170.0"/>
<line x1="1177.7" y1="222.1" x2="1170.5" y2="233.8"/>
<line x1="1214.0" y1="194.2" x2="1257.7" y2="194.2"/>
<line x1="1274.7" y1="156.1" x2="1255.0" y2="192.4"/>
<line x1="1285.5" y1="161.9" x2="1264.0" y2="198.7"/>
<line x1="1259.5" y1="195.1" x2="1281.9" y2="232.9"/>
<line x1="1373.2" y1="277.0" x2="1392.1" y2="308.5"/>
<line x1="1393.9" y1="311.7" x2="1441.5" y2="311.7"/>
<line x1="1388.5" y1="309.4" x2="1366.9" y2="347.1"/>
<line x1="1400.2" y1="313.9" x2="1378.6" y2="351.6"/>
<line x1="1481.9" y1="276.1" x2="1475.6" y2="286.9"/>
<line x1="1477.4" y1="338.1" x2="1484.6" y2="349.8"/>
</g>
<line x1="1312.5" y1="253.1" x2="1340.3" y2="253.1" stroke="#8c8c8c" stroke-width="6.2"/>
<text x="1086.8" y="154.7" font-size="47.5">H<tspan font-size="33" dy="9.5">3</tspan><tspan dy="-9.5">C</tspan></text>
<text x="1086.8" y="271.5" font-size="47.5">H<tspan font-size="33" dy="9.5">3</tspan><tspan dy="-9.5">C</tspan></text>
<text x="1480.5" y="272.6" font-size="47.5">CH<tspan font-size="33" dy="9.5">3</tspan></text>
<text x="1480.5" y="388.6" font-size="47.5">CH<tspan font-size="33" dy="9.5">3</tspan></text>
<text x="1174" y="214" font-size="47.5" text-anchor="start">N</text>
<text x="1443.2" y="329.2" font-size="47.5" text-anchor="start">N</text>
<text x="1277.2" y="154.9" font-size="47.5" text-anchor="start">S</text>
<text x="1277.8" y="271.7" font-size="47.5" text-anchor="start">S</text>
<text x="1346.5" y="271.7" font-size="47.5" text-anchor="start">S</text>
<text x="1346.8" y="388.7" font-size="47.5" text-anchor="start">S</text>
</g>
</svg>
</body>
</html>
